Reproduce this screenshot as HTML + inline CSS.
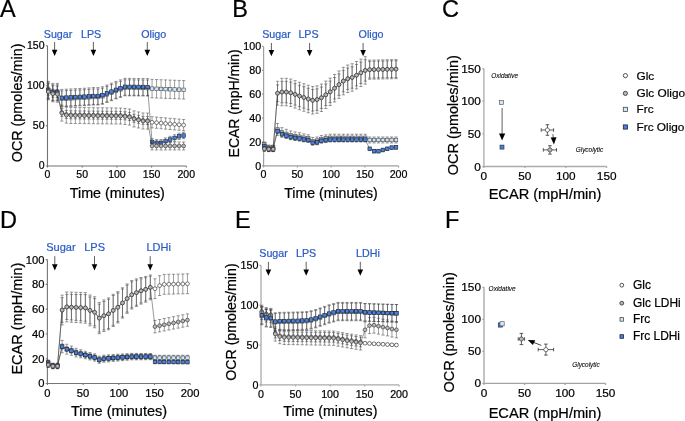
<!DOCTYPE html>
<html><head><meta charset="utf-8"><style>html,body{margin:0;padding:0;background:#fff;}svg{display:block;will-change:transform;}</style></head><body>
<svg width="685" height="421" viewBox="0 0 685 421" font-family='"Liberation Sans", sans-serif'>
<rect width="685" height="421" fill="#fff"/>
<text x="0" y="17" font-size="23.5" text-anchor="start" fill="#000" stroke="#000" stroke-width="0.22" >A</text>
<text x="232.2" y="17" font-size="23.5" text-anchor="start" fill="#000" stroke="#000" stroke-width="0.22" >B</text>
<text x="442" y="17" font-size="23.5" text-anchor="start" fill="#000" stroke="#000" stroke-width="0.22" >C</text>
<text x="0.1" y="228" font-size="23.5" text-anchor="start" fill="#000" stroke="#000" stroke-width="0.22" >D</text>
<text x="235.1" y="228" font-size="23.5" text-anchor="start" fill="#000" stroke="#000" stroke-width="0.22" >E</text>
<text x="444.9" y="228" font-size="23.5" text-anchor="start" fill="#000" stroke="#000" stroke-width="0.22" >F</text>
<text x="43.8" y="37.5" font-size="10.7" text-anchor="start" fill="#2a5cc6" stroke="#2a5cc6" stroke-width="0.22" >Sugar</text>
<text x="81" y="37.5" font-size="10.7" text-anchor="start" fill="#2a5cc6" stroke="#2a5cc6" stroke-width="0.22" >LPS</text>
<text x="141.2" y="37.5" font-size="10.7" text-anchor="start" fill="#2a5cc6" stroke="#2a5cc6" stroke-width="0.22" >Oligo</text>
<path d="M54.6,42V50.3" stroke="#444" stroke-width="0.85"/>
<path d="M51.8,49.8L57.4,49.8L54.6,56Z" fill="#000"/>
<path d="M93.4,42V50.3" stroke="#444" stroke-width="0.85"/>
<path d="M90.6,49.8L96.2,49.8L93.4,56Z" fill="#000"/>
<path d="M147.3,42V50.3" stroke="#444" stroke-width="0.85"/>
<path d="M144.5,49.8L150.1,49.8L147.3,56Z" fill="#000"/>
<text x="262.2" y="37.8" font-size="10.7" text-anchor="start" fill="#2a5cc6" stroke="#2a5cc6" stroke-width="0.22" >Sugar</text>
<text x="298.4" y="37.8" font-size="10.7" text-anchor="start" fill="#2a5cc6" stroke="#2a5cc6" stroke-width="0.22" >LPS</text>
<text x="358.6" y="37.8" font-size="10.7" text-anchor="start" fill="#2a5cc6" stroke="#2a5cc6" stroke-width="0.22" >Oligo</text>
<path d="M271.4,43V50.6" stroke="#444" stroke-width="0.85"/>
<path d="M268.6,50.1L274.2,50.1L271.4,56.3Z" fill="#000"/>
<path d="M309.6,43V50.6" stroke="#444" stroke-width="0.85"/>
<path d="M306.8,50.1L312.4,50.1L309.6,56.3Z" fill="#000"/>
<path d="M363.1,43V50.6" stroke="#444" stroke-width="0.85"/>
<path d="M360.3,50.1L365.9,50.1L363.1,56.3Z" fill="#000"/>
<text x="46.2" y="250.8" font-size="11" text-anchor="start" fill="#2a5cc6" stroke="#2a5cc6" stroke-width="0.22" >Sugar</text>
<text x="84.2" y="250.8" font-size="11" text-anchor="start" fill="#2a5cc6" stroke="#2a5cc6" stroke-width="0.22" >LPS</text>
<text x="146.4" y="250.8" font-size="11" text-anchor="start" fill="#2a5cc6" stroke="#2a5cc6" stroke-width="0.22" >LDHi</text>
<path d="M54.8,256.2V264.7" stroke="#444" stroke-width="0.85"/>
<path d="M52,264.2L57.6,264.2L54.8,270.4Z" fill="#000"/>
<path d="M94.5,256.2V264.7" stroke="#444" stroke-width="0.85"/>
<path d="M91.7,264.2L97.3,264.2L94.5,270.4Z" fill="#000"/>
<path d="M150.2,256.2V264.7" stroke="#444" stroke-width="0.85"/>
<path d="M147.4,264.2L153,264.2L150.2,270.4Z" fill="#000"/>
<text x="259.3" y="256.6" font-size="10.7" text-anchor="start" fill="#2a5cc6" stroke="#2a5cc6" stroke-width="0.22" >Sugar</text>
<text x="296" y="256.6" font-size="10.7" text-anchor="start" fill="#2a5cc6" stroke="#2a5cc6" stroke-width="0.22" >LPS</text>
<text x="356.1" y="256.6" font-size="10.7" text-anchor="start" fill="#2a5cc6" stroke="#2a5cc6" stroke-width="0.22" >LDHi</text>
<path d="M268.4,261.8V270" stroke="#444" stroke-width="0.85"/>
<path d="M265.6,269.5L271.2,269.5L268.4,275.7Z" fill="#000"/>
<path d="M306.2,261.8V270" stroke="#444" stroke-width="0.85"/>
<path d="M303.4,269.5L309,269.5L306.2,275.7Z" fill="#000"/>
<path d="M360.3,261.8V270" stroke="#444" stroke-width="0.85"/>
<path d="M357.5,269.5L363.1,269.5L360.3,275.7Z" fill="#000"/>
<path d="M47.5,45.7V166H186.3" stroke="#727272" stroke-width="1.1" fill="none"/>
<path d="M45.9,166H47.5M45.9,125.9H47.5M45.9,85.8H47.5M45.9,45.7H47.5M47.5,166V167.6M82.2,166V167.6M116.9,166V167.6M151.6,166V167.6M186.3,166V167.6" stroke="#727272" stroke-width="1.1" fill="none"/>
<text x="44.5" y="169.28" font-size="10.5" text-anchor="end" fill="#000" stroke="#000" stroke-width="0.22" >0</text>
<text x="44.5" y="129.18" font-size="10.5" text-anchor="end" fill="#000" stroke="#000" stroke-width="0.22" >50</text>
<text x="44.5" y="89.07" font-size="10.5" text-anchor="end" fill="#000" stroke="#000" stroke-width="0.22" >100</text>
<text x="44.5" y="48.97" font-size="10.5" text-anchor="end" fill="#000" stroke="#000" stroke-width="0.22" >150</text>
<text x="47.5" y="178.4" font-size="10.5" text-anchor="middle" fill="#000" stroke="#000" stroke-width="0.22" >0</text>
<text x="82.2" y="178.4" font-size="10.5" text-anchor="middle" fill="#000" stroke="#000" stroke-width="0.22" >50</text>
<text x="116.9" y="178.4" font-size="10.5" text-anchor="middle" fill="#000" stroke="#000" stroke-width="0.22" >100</text>
<text x="151.6" y="178.4" font-size="10.5" text-anchor="middle" fill="#000" stroke="#000" stroke-width="0.22" >150</text>
<text x="186.3" y="178.4" font-size="10.5" text-anchor="middle" fill="#000" stroke="#000" stroke-width="0.22" >200</text>
<text x="117.3" y="198" font-size="14.35" text-anchor="middle" fill="#000" stroke="#000" stroke-width="0.22" >Time (minutes)</text>
<text transform="translate(21.8,102.9) rotate(-90)" font-size="14.35" text-anchor="middle" stroke="#000" stroke-width="0.22">OCR (pmoles/min)</text>
<path d="M48.3,82.83V98.87M46.7,82.83H49.9M46.7,98.87H49.9M52.81,84.84V100.88M51.21,84.84H54.41M51.21,100.88H54.41M57.32,84.84V100.88M55.72,84.84H58.92M55.72,100.88H58.92M61.83,90.85V106.89M60.23,90.85H63.43M60.23,106.89H63.43M66.34,90.61V106.65M64.74,90.61H67.94M64.74,106.65H67.94M70.85,90.37V106.41M69.25,90.37H72.45M69.25,106.41H72.45M75.36,90.13V106.17M73.76,90.13H76.96M73.76,106.17H76.96M79.88,89.89V105.93M78.28,89.89H81.48M78.28,105.93H81.48M84.39,89.65V105.69M82.79,89.65H85.99M82.79,105.69H85.99M88.9,89.33V105.37M87.3,89.33H90.5M87.3,105.37H90.5M93.41,89.01V105.05M91.81,89.01H95.01M91.81,105.05H95.01M97.92,89.01V105.05M96.32,89.01H99.52M96.32,105.05H99.52M102.43,88.21V104.25M100.83,88.21H104.03M100.83,104.25H104.03M106.94,86.44V102.48M105.34,86.44H108.54M105.34,102.48H108.54M111.45,84.6V100.64M109.85,84.6H113.05M109.85,100.64H113.05M115.96,82.83V98.87M114.36,82.83H117.56M114.36,98.87H117.56M120.47,81.31V97.35M118.87,81.31H122.07M118.87,97.35H122.07M124.99,79.78V95.82M123.39,79.78H126.59M123.39,95.82H126.59M129.5,79.83V95.87M127.9,79.83H131.1M127.9,95.87H131.1M134.01,79.88V95.92M132.41,79.88H135.61M132.41,95.92H135.61M138.52,79.93V95.97M136.92,79.93H140.12M136.92,95.97H140.12M143.03,79.98V96.02M141.43,79.98H144.63M141.43,96.02H144.63M147.54,80.03V96.07M145.94,80.03H149.14M145.94,96.07H149.14M152.05,79.38V97.83M150.45,79.38H153.65M150.45,97.83H153.65M156.56,79.56V98M154.96,79.56H158.16M154.96,98H158.16M161.07,79.73V98.17M159.47,79.73H162.67M159.47,98.17H162.67M165.58,79.9V98.35M163.98,79.9H167.18M163.98,98.35H167.18M170.1,80.07V98.52M168.5,80.07H171.7M168.5,98.52H171.7M174.61,80.24V98.69M173.01,80.24H176.21M173.01,98.69H176.21M179.12,80.42V98.86M177.52,80.42H180.72M177.52,98.86H180.72M183.63,80.59V99.03M182.03,80.59H185.23M182.03,99.03H185.23" stroke="#3a3a3a" stroke-width="0.5" fill="none"/>
<path d="M48.3,90.85L52.81,92.86L57.32,92.86L61.83,98.87L66.34,98.63L70.85,98.39L75.36,98.15L79.88,97.91L84.39,97.67L88.9,97.35L93.41,97.03L97.92,97.03L102.43,96.23L106.94,94.46L111.45,92.62L115.96,90.85L120.47,89.33L124.99,87.8L129.5,87.85L134.01,87.9L138.52,87.95L143.03,88L147.54,88.05L152.05,88.61L156.56,88.78L161.07,88.95L165.58,89.12L170.1,89.29L174.61,89.47L179.12,89.64L183.63,89.81" stroke="#333" stroke-width="0.5" fill="none"/>
<rect x="46.55" y="89.1" width="3.5" height="3.5" fill="#cfe7fb" stroke="#4a4a4a" stroke-width="0.6"/><rect x="51.06" y="91.11" width="3.5" height="3.5" fill="#cfe7fb" stroke="#4a4a4a" stroke-width="0.6"/><rect x="55.57" y="91.11" width="3.5" height="3.5" fill="#cfe7fb" stroke="#4a4a4a" stroke-width="0.6"/><rect x="60.08" y="97.12" width="3.5" height="3.5" fill="#cfe7fb" stroke="#4a4a4a" stroke-width="0.6"/><rect x="64.59" y="96.88" width="3.5" height="3.5" fill="#cfe7fb" stroke="#4a4a4a" stroke-width="0.6"/><rect x="69.1" y="96.64" width="3.5" height="3.5" fill="#cfe7fb" stroke="#4a4a4a" stroke-width="0.6"/><rect x="73.61" y="96.4" width="3.5" height="3.5" fill="#cfe7fb" stroke="#4a4a4a" stroke-width="0.6"/><rect x="78.13" y="96.16" width="3.5" height="3.5" fill="#cfe7fb" stroke="#4a4a4a" stroke-width="0.6"/><rect x="82.64" y="95.92" width="3.5" height="3.5" fill="#cfe7fb" stroke="#4a4a4a" stroke-width="0.6"/><rect x="87.15" y="95.6" width="3.5" height="3.5" fill="#cfe7fb" stroke="#4a4a4a" stroke-width="0.6"/><rect x="91.66" y="95.28" width="3.5" height="3.5" fill="#cfe7fb" stroke="#4a4a4a" stroke-width="0.6"/><rect x="96.17" y="95.28" width="3.5" height="3.5" fill="#cfe7fb" stroke="#4a4a4a" stroke-width="0.6"/><rect x="100.68" y="94.48" width="3.5" height="3.5" fill="#cfe7fb" stroke="#4a4a4a" stroke-width="0.6"/><rect x="105.19" y="92.71" width="3.5" height="3.5" fill="#cfe7fb" stroke="#4a4a4a" stroke-width="0.6"/><rect x="109.7" y="90.87" width="3.5" height="3.5" fill="#cfe7fb" stroke="#4a4a4a" stroke-width="0.6"/><rect x="114.21" y="89.1" width="3.5" height="3.5" fill="#cfe7fb" stroke="#4a4a4a" stroke-width="0.6"/><rect x="118.72" y="87.58" width="3.5" height="3.5" fill="#cfe7fb" stroke="#4a4a4a" stroke-width="0.6"/><rect x="123.24" y="86.05" width="3.5" height="3.5" fill="#cfe7fb" stroke="#4a4a4a" stroke-width="0.6"/><rect x="127.75" y="86.1" width="3.5" height="3.5" fill="#cfe7fb" stroke="#4a4a4a" stroke-width="0.6"/><rect x="132.26" y="86.15" width="3.5" height="3.5" fill="#cfe7fb" stroke="#4a4a4a" stroke-width="0.6"/><rect x="136.77" y="86.2" width="3.5" height="3.5" fill="#cfe7fb" stroke="#4a4a4a" stroke-width="0.6"/><rect x="141.28" y="86.25" width="3.5" height="3.5" fill="#cfe7fb" stroke="#4a4a4a" stroke-width="0.6"/><rect x="145.79" y="86.3" width="3.5" height="3.5" fill="#cfe7fb" stroke="#4a4a4a" stroke-width="0.6"/><rect x="150.3" y="86.86" width="3.5" height="3.5" fill="#cfe7fb" stroke="#4a4a4a" stroke-width="0.6"/><rect x="154.81" y="87.03" width="3.5" height="3.5" fill="#cfe7fb" stroke="#4a4a4a" stroke-width="0.6"/><rect x="159.32" y="87.2" width="3.5" height="3.5" fill="#cfe7fb" stroke="#4a4a4a" stroke-width="0.6"/><rect x="163.83" y="87.37" width="3.5" height="3.5" fill="#cfe7fb" stroke="#4a4a4a" stroke-width="0.6"/><rect x="168.35" y="87.54" width="3.5" height="3.5" fill="#cfe7fb" stroke="#4a4a4a" stroke-width="0.6"/><rect x="172.86" y="87.72" width="3.5" height="3.5" fill="#cfe7fb" stroke="#4a4a4a" stroke-width="0.6"/><rect x="177.37" y="87.89" width="3.5" height="3.5" fill="#cfe7fb" stroke="#4a4a4a" stroke-width="0.6"/><rect x="181.88" y="88.06" width="3.5" height="3.5" fill="#cfe7fb" stroke="#4a4a4a" stroke-width="0.6"/>
<path d="M48.3,81.39V98.23M46.7,81.39H49.9M46.7,98.23H49.9M52.81,83.39V100.24M51.21,83.39H54.41M51.21,100.24H54.41M57.32,83.39V100.24M55.72,83.39H58.92M55.72,100.24H58.92M61.83,89.41V106.25M60.23,89.41H63.43M60.23,106.25H63.43M66.34,89.17V106.01M64.74,89.17H67.94M64.74,106.01H67.94M70.85,88.93V105.77M69.25,88.93H72.45M69.25,105.77H72.45M75.36,88.69V105.53M73.76,88.69H76.96M73.76,105.53H76.96M79.88,88.45V105.29M78.28,88.45H81.48M78.28,105.29H81.48M84.39,88.21V105.05M82.79,88.21H85.99M82.79,105.05H85.99M88.9,87.89V104.73M87.3,87.89H90.5M87.3,104.73H90.5M93.41,87.56V104.41M91.81,87.56H95.01M91.81,104.41H95.01M97.92,87.56V104.41M96.32,87.56H99.52M96.32,104.41H99.52M102.43,86.76V103.6M100.83,86.76H104.03M100.83,103.6H104.03M106.94,85V101.84M105.34,85H108.54M105.34,101.84H108.54M111.45,83.15V100M109.85,83.15H113.05M109.85,100H113.05M115.96,81.39V98.23M114.36,81.39H117.56M114.36,98.23H117.56M120.47,79.87V96.71M118.87,79.87H122.07M118.87,96.71H122.07M124.99,78.34V95.18M123.39,78.34H126.59M123.39,95.18H126.59M129.5,78.39V95.23M127.9,78.39H131.1M127.9,95.23H131.1M134.01,78.44V95.28M132.41,78.44H135.61M132.41,95.28H135.61M138.52,78.49V95.33M136.92,78.49H140.12M136.92,95.33H140.12M143.03,78.53V95.38M141.43,78.53H144.63M141.43,95.38H144.63M147.54,78.58V95.42M145.94,78.58H149.14M145.94,95.42H149.14M152.05,138.73V145.15M150.45,138.73H153.65M150.45,145.15H153.65M156.56,139.53V145.95M154.96,139.53H158.16M154.96,145.95H158.16M161.07,139.53V145.95M159.47,139.53H162.67M159.47,145.95H162.67M165.58,137.93V144.35M163.98,137.93H167.18M163.98,144.35H167.18M170.1,136.33V142.74M168.5,136.33H171.7M168.5,142.74H171.7M174.61,134.72V141.14M173.01,134.72H176.21M173.01,141.14H176.21M179.12,133.12V139.53M177.52,133.12H180.72M177.52,139.53H180.72M183.63,132.32V138.73M182.03,132.32H185.23M182.03,138.73H185.23" stroke="#3a3a3a" stroke-width="0.5" fill="none"/>
<path d="M48.3,89.81L52.81,91.81L57.32,91.81L61.83,97.83L66.34,97.59L70.85,97.35L75.36,97.11L79.88,96.87L84.39,96.63L88.9,96.31L93.41,95.99L97.92,95.99L102.43,95.18L106.94,93.42L111.45,91.57L115.96,89.81L120.47,88.29L124.99,86.76L129.5,86.81L134.01,86.86L138.52,86.91L143.03,86.95L147.54,87L152.05,141.94L156.56,142.74L161.07,142.74L165.58,141.14L170.1,139.53L174.61,137.93L179.12,136.33L183.63,135.52" stroke="#333" stroke-width="0.5" fill="none"/>
<rect x="46.55" y="88.06" width="3.5" height="3.5" fill="#4a80e0" stroke="#1c2230" stroke-width="0.6"/><rect x="51.06" y="90.06" width="3.5" height="3.5" fill="#4a80e0" stroke="#1c2230" stroke-width="0.6"/><rect x="55.57" y="90.06" width="3.5" height="3.5" fill="#4a80e0" stroke="#1c2230" stroke-width="0.6"/><rect x="60.08" y="96.08" width="3.5" height="3.5" fill="#4a80e0" stroke="#1c2230" stroke-width="0.6"/><rect x="64.59" y="95.84" width="3.5" height="3.5" fill="#4a80e0" stroke="#1c2230" stroke-width="0.6"/><rect x="69.1" y="95.6" width="3.5" height="3.5" fill="#4a80e0" stroke="#1c2230" stroke-width="0.6"/><rect x="73.61" y="95.36" width="3.5" height="3.5" fill="#4a80e0" stroke="#1c2230" stroke-width="0.6"/><rect x="78.13" y="95.12" width="3.5" height="3.5" fill="#4a80e0" stroke="#1c2230" stroke-width="0.6"/><rect x="82.64" y="94.88" width="3.5" height="3.5" fill="#4a80e0" stroke="#1c2230" stroke-width="0.6"/><rect x="87.15" y="94.56" width="3.5" height="3.5" fill="#4a80e0" stroke="#1c2230" stroke-width="0.6"/><rect x="91.66" y="94.24" width="3.5" height="3.5" fill="#4a80e0" stroke="#1c2230" stroke-width="0.6"/><rect x="96.17" y="94.24" width="3.5" height="3.5" fill="#4a80e0" stroke="#1c2230" stroke-width="0.6"/><rect x="100.68" y="93.43" width="3.5" height="3.5" fill="#4a80e0" stroke="#1c2230" stroke-width="0.6"/><rect x="105.19" y="91.67" width="3.5" height="3.5" fill="#4a80e0" stroke="#1c2230" stroke-width="0.6"/><rect x="109.7" y="89.82" width="3.5" height="3.5" fill="#4a80e0" stroke="#1c2230" stroke-width="0.6"/><rect x="114.21" y="88.06" width="3.5" height="3.5" fill="#4a80e0" stroke="#1c2230" stroke-width="0.6"/><rect x="118.72" y="86.54" width="3.5" height="3.5" fill="#4a80e0" stroke="#1c2230" stroke-width="0.6"/><rect x="123.24" y="85.01" width="3.5" height="3.5" fill="#4a80e0" stroke="#1c2230" stroke-width="0.6"/><rect x="127.75" y="85.06" width="3.5" height="3.5" fill="#4a80e0" stroke="#1c2230" stroke-width="0.6"/><rect x="132.26" y="85.11" width="3.5" height="3.5" fill="#4a80e0" stroke="#1c2230" stroke-width="0.6"/><rect x="136.77" y="85.16" width="3.5" height="3.5" fill="#4a80e0" stroke="#1c2230" stroke-width="0.6"/><rect x="141.28" y="85.2" width="3.5" height="3.5" fill="#4a80e0" stroke="#1c2230" stroke-width="0.6"/><rect x="145.79" y="85.25" width="3.5" height="3.5" fill="#4a80e0" stroke="#1c2230" stroke-width="0.6"/><rect x="150.3" y="140.19" width="3.5" height="3.5" fill="#4a80e0" stroke="#1c2230" stroke-width="0.6"/><rect x="154.81" y="140.99" width="3.5" height="3.5" fill="#4a80e0" stroke="#1c2230" stroke-width="0.6"/><rect x="159.32" y="140.99" width="3.5" height="3.5" fill="#4a80e0" stroke="#1c2230" stroke-width="0.6"/><rect x="163.83" y="139.39" width="3.5" height="3.5" fill="#4a80e0" stroke="#1c2230" stroke-width="0.6"/><rect x="168.35" y="137.78" width="3.5" height="3.5" fill="#4a80e0" stroke="#1c2230" stroke-width="0.6"/><rect x="172.86" y="136.18" width="3.5" height="3.5" fill="#4a80e0" stroke="#1c2230" stroke-width="0.6"/><rect x="177.37" y="134.58" width="3.5" height="3.5" fill="#4a80e0" stroke="#1c2230" stroke-width="0.6"/><rect x="181.88" y="133.77" width="3.5" height="3.5" fill="#4a80e0" stroke="#1c2230" stroke-width="0.6"/>
<path d="M48.3,87.16V95.18M46.7,87.16H49.9M46.7,95.18H49.9M52.81,89.17V97.19M51.21,89.17H54.41M51.21,97.19H54.41M57.32,89.57V97.59M55.72,89.57H58.92M55.72,97.59H58.92M61.83,108.42V116.44M60.23,108.42H63.43M60.23,116.44H63.43M66.34,110.42V118.44M64.74,110.42H67.94M64.74,118.44H67.94M70.85,110.82V118.84M69.25,110.82H72.45M69.25,118.84H72.45M75.36,110.87V118.89M73.76,110.87H76.96M73.76,118.89H76.96M79.88,110.92V118.94M78.28,110.92H81.48M78.28,118.94H81.48M84.39,110.98V119M82.79,110.98H85.99M82.79,119H85.99M88.9,111.03V119.05M87.3,111.03H90.5M87.3,119.05H90.5M93.41,111.08V119.1M91.81,111.08H95.01M91.81,119.1H95.01M97.92,111.13V119.15M96.32,111.13H99.52M96.32,119.15H99.52M102.43,111.18V119.2M100.83,111.18H104.03M100.83,119.2H104.03M106.94,111.23V119.25M105.34,111.23H108.54M105.34,119.25H108.54M111.45,111.28V119.3M109.85,111.28H113.05M109.85,119.3H113.05M115.96,111.33V119.35M114.36,111.33H117.56M114.36,119.35H117.56M120.47,111.38V119.4M118.87,111.38H122.07M118.87,119.4H122.07M124.99,111.78V119.8M123.39,111.78H126.59M123.39,119.8H126.59M129.5,112.43V120.45M127.9,112.43H131.1M127.9,120.45H131.1M134.01,114.27V122.29M132.41,114.27H135.61M132.41,122.29H135.61M138.52,115.31V123.33M136.92,115.31H140.12M136.92,123.33H140.12M143.03,116.36V124.38M141.43,116.36H144.63M141.43,124.38H144.63M147.54,116.44V124.46M145.94,116.44H149.14M145.94,124.46H149.14M152.05,116.68V127.91M150.45,116.68H153.65M150.45,127.91H153.65M156.56,117.08V128.31M154.96,117.08H158.16M154.96,128.31H158.16M161.07,117.48V128.71M159.47,117.48H162.67M159.47,128.71H162.67M165.58,117.88V129.11M163.98,117.88H167.18M163.98,129.11H167.18M170.1,118.28V129.51M168.5,118.28H171.7M168.5,129.51H171.7M174.61,118.68V129.91M173.01,118.68H176.21M173.01,129.91H176.21M179.12,119.08V130.31M177.52,119.08H180.72M177.52,130.31H180.72M183.63,119.48V130.71M182.03,119.48H185.23M182.03,130.71H185.23" stroke="#3a3a3a" stroke-width="0.5" fill="none"/>
<path d="M48.3,91.17L52.81,93.18L57.32,93.58L61.83,112.43L66.34,114.43L70.85,114.83L75.36,114.88L79.88,114.93L84.39,114.99L88.9,115.04L93.41,115.09L97.92,115.14L102.43,115.19L106.94,115.24L111.45,115.29L115.96,115.34L120.47,115.39L124.99,115.79L129.5,116.44L134.01,118.28L138.52,119.32L143.03,120.37L147.54,120.45L152.05,122.29L156.56,122.69L161.07,123.09L165.58,123.49L170.1,123.89L174.61,124.3L179.12,124.7L183.63,125.1" stroke="#333" stroke-width="0.5" fill="none"/>
<circle cx="48.3" cy="91.17" r="1.9" fill="#ffffff" stroke="#2a2a2a" stroke-width="0.6"/><circle cx="52.81" cy="93.18" r="1.9" fill="#ffffff" stroke="#2a2a2a" stroke-width="0.6"/><circle cx="57.32" cy="93.58" r="1.9" fill="#ffffff" stroke="#2a2a2a" stroke-width="0.6"/><circle cx="61.83" cy="112.43" r="1.9" fill="#ffffff" stroke="#2a2a2a" stroke-width="0.6"/><circle cx="66.34" cy="114.43" r="1.9" fill="#ffffff" stroke="#2a2a2a" stroke-width="0.6"/><circle cx="70.85" cy="114.83" r="1.9" fill="#ffffff" stroke="#2a2a2a" stroke-width="0.6"/><circle cx="75.36" cy="114.88" r="1.9" fill="#ffffff" stroke="#2a2a2a" stroke-width="0.6"/><circle cx="79.88" cy="114.93" r="1.9" fill="#ffffff" stroke="#2a2a2a" stroke-width="0.6"/><circle cx="84.39" cy="114.99" r="1.9" fill="#ffffff" stroke="#2a2a2a" stroke-width="0.6"/><circle cx="88.9" cy="115.04" r="1.9" fill="#ffffff" stroke="#2a2a2a" stroke-width="0.6"/><circle cx="93.41" cy="115.09" r="1.9" fill="#ffffff" stroke="#2a2a2a" stroke-width="0.6"/><circle cx="97.92" cy="115.14" r="1.9" fill="#ffffff" stroke="#2a2a2a" stroke-width="0.6"/><circle cx="102.43" cy="115.19" r="1.9" fill="#ffffff" stroke="#2a2a2a" stroke-width="0.6"/><circle cx="106.94" cy="115.24" r="1.9" fill="#ffffff" stroke="#2a2a2a" stroke-width="0.6"/><circle cx="111.45" cy="115.29" r="1.9" fill="#ffffff" stroke="#2a2a2a" stroke-width="0.6"/><circle cx="115.96" cy="115.34" r="1.9" fill="#ffffff" stroke="#2a2a2a" stroke-width="0.6"/><circle cx="120.47" cy="115.39" r="1.9" fill="#ffffff" stroke="#2a2a2a" stroke-width="0.6"/><circle cx="124.99" cy="115.79" r="1.9" fill="#ffffff" stroke="#2a2a2a" stroke-width="0.6"/><circle cx="129.5" cy="116.44" r="1.9" fill="#ffffff" stroke="#2a2a2a" stroke-width="0.6"/><circle cx="134.01" cy="118.28" r="1.9" fill="#ffffff" stroke="#2a2a2a" stroke-width="0.6"/><circle cx="138.52" cy="119.32" r="1.9" fill="#ffffff" stroke="#2a2a2a" stroke-width="0.6"/><circle cx="143.03" cy="120.37" r="1.9" fill="#ffffff" stroke="#2a2a2a" stroke-width="0.6"/><circle cx="147.54" cy="120.45" r="1.9" fill="#ffffff" stroke="#2a2a2a" stroke-width="0.6"/><circle cx="152.05" cy="122.29" r="1.9" fill="#ffffff" stroke="#2a2a2a" stroke-width="0.6"/><circle cx="156.56" cy="122.69" r="1.9" fill="#ffffff" stroke="#2a2a2a" stroke-width="0.6"/><circle cx="161.07" cy="123.09" r="1.9" fill="#ffffff" stroke="#2a2a2a" stroke-width="0.6"/><circle cx="165.58" cy="123.49" r="1.9" fill="#ffffff" stroke="#2a2a2a" stroke-width="0.6"/><circle cx="170.1" cy="123.89" r="1.9" fill="#ffffff" stroke="#2a2a2a" stroke-width="0.6"/><circle cx="174.61" cy="124.3" r="1.9" fill="#ffffff" stroke="#2a2a2a" stroke-width="0.6"/><circle cx="179.12" cy="124.7" r="1.9" fill="#ffffff" stroke="#2a2a2a" stroke-width="0.6"/><circle cx="183.63" cy="125.1" r="1.9" fill="#ffffff" stroke="#2a2a2a" stroke-width="0.6"/>
<path d="M48.3,83.8V99.83M46.7,83.8H49.9M46.7,99.83H49.9M52.81,85.8V101.84M51.21,85.8H54.41M51.21,101.84H54.41M57.32,86.2V102.24M55.72,86.2H58.92M55.72,102.24H58.92M61.83,105.05V121.09M60.23,105.05H63.43M60.23,121.09H63.43M66.34,107.05V123.09M64.74,107.05H67.94M64.74,123.09H67.94M70.85,107.45V123.49M69.25,107.45H72.45M69.25,123.49H72.45M75.36,107.51V123.55M73.76,107.51H76.96M73.76,123.55H76.96M79.88,107.56V123.6M78.28,107.56H81.48M78.28,123.6H81.48M84.39,107.61V123.65M82.79,107.61H85.99M82.79,123.65H85.99M88.9,107.66V123.7M87.3,107.66H90.5M87.3,123.7H90.5M93.41,107.71V123.75M91.81,107.71H95.01M91.81,123.75H95.01M97.92,107.76V123.8M96.32,107.76H99.52M96.32,123.8H99.52M102.43,107.81V123.85M100.83,107.81H104.03M100.83,123.85H104.03M106.94,107.86V123.9M105.34,107.86H108.54M105.34,123.9H108.54M111.45,107.91V123.95M109.85,107.91H113.05M109.85,123.95H113.05M115.96,107.96V124M114.36,107.96H117.56M114.36,124H117.56M120.47,108.02V124.06M118.87,108.02H122.07M118.87,124.06H122.07M124.99,108.42V124.46M123.39,108.42H126.59M123.39,124.46H126.59M129.5,109.06V125.1M127.9,109.06H131.1M127.9,125.1H131.1M134.01,110.9V126.94M132.41,110.9H135.61M132.41,126.94H135.61M138.52,111.95V127.99M136.92,111.95H140.12M136.92,127.99H140.12M143.03,112.99V129.03M141.43,112.99H144.63M141.43,129.03H144.63M147.54,113.07V129.11M145.94,113.07H149.14M145.94,129.11H149.14M152.05,141.94V149.96M150.45,141.94H153.65M150.45,149.96H153.65M156.56,141.94V149.96M154.96,141.94H158.16M154.96,149.96H158.16M161.07,141.94V149.96M159.47,141.94H162.67M159.47,149.96H162.67M165.58,141.94V149.96M163.98,141.94H167.18M163.98,149.96H167.18M170.1,141.94V149.96M168.5,141.94H171.7M168.5,149.96H171.7M174.61,141.94V149.96M173.01,141.94H176.21M173.01,149.96H176.21M179.12,141.94V149.96M177.52,141.94H180.72M177.52,149.96H180.72M183.63,141.94V149.96M182.03,141.94H185.23M182.03,149.96H185.23" stroke="#3a3a3a" stroke-width="0.5" fill="none"/>
<path d="M48.3,91.81L52.81,93.82L57.32,94.22L61.83,113.07L66.34,115.07L70.85,115.47L75.36,115.53L79.88,115.58L84.39,115.63L88.9,115.68L93.41,115.73L97.92,115.78L102.43,115.83L106.94,115.88L111.45,115.93L115.96,115.98L120.47,116.04L124.99,116.44L129.5,117.08L134.01,118.92L138.52,119.97L143.03,121.01L147.54,121.09L152.05,145.95L156.56,145.95L161.07,145.95L165.58,145.95L170.1,145.95L174.61,145.95L179.12,145.95L183.63,145.95" stroke="#333" stroke-width="0.5" fill="none"/>
<circle cx="48.3" cy="91.81" r="1.9" fill="#b8b8b8" stroke="#2a2a2a" stroke-width="0.6"/><circle cx="52.81" cy="93.82" r="1.9" fill="#b8b8b8" stroke="#2a2a2a" stroke-width="0.6"/><circle cx="57.32" cy="94.22" r="1.9" fill="#b8b8b8" stroke="#2a2a2a" stroke-width="0.6"/><circle cx="61.83" cy="113.07" r="1.9" fill="#b8b8b8" stroke="#2a2a2a" stroke-width="0.6"/><circle cx="66.34" cy="115.07" r="1.9" fill="#b8b8b8" stroke="#2a2a2a" stroke-width="0.6"/><circle cx="70.85" cy="115.47" r="1.9" fill="#b8b8b8" stroke="#2a2a2a" stroke-width="0.6"/><circle cx="75.36" cy="115.53" r="1.9" fill="#b8b8b8" stroke="#2a2a2a" stroke-width="0.6"/><circle cx="79.88" cy="115.58" r="1.9" fill="#b8b8b8" stroke="#2a2a2a" stroke-width="0.6"/><circle cx="84.39" cy="115.63" r="1.9" fill="#b8b8b8" stroke="#2a2a2a" stroke-width="0.6"/><circle cx="88.9" cy="115.68" r="1.9" fill="#b8b8b8" stroke="#2a2a2a" stroke-width="0.6"/><circle cx="93.41" cy="115.73" r="1.9" fill="#b8b8b8" stroke="#2a2a2a" stroke-width="0.6"/><circle cx="97.92" cy="115.78" r="1.9" fill="#b8b8b8" stroke="#2a2a2a" stroke-width="0.6"/><circle cx="102.43" cy="115.83" r="1.9" fill="#b8b8b8" stroke="#2a2a2a" stroke-width="0.6"/><circle cx="106.94" cy="115.88" r="1.9" fill="#b8b8b8" stroke="#2a2a2a" stroke-width="0.6"/><circle cx="111.45" cy="115.93" r="1.9" fill="#b8b8b8" stroke="#2a2a2a" stroke-width="0.6"/><circle cx="115.96" cy="115.98" r="1.9" fill="#b8b8b8" stroke="#2a2a2a" stroke-width="0.6"/><circle cx="120.47" cy="116.04" r="1.9" fill="#b8b8b8" stroke="#2a2a2a" stroke-width="0.6"/><circle cx="124.99" cy="116.44" r="1.9" fill="#b8b8b8" stroke="#2a2a2a" stroke-width="0.6"/><circle cx="129.5" cy="117.08" r="1.9" fill="#b8b8b8" stroke="#2a2a2a" stroke-width="0.6"/><circle cx="134.01" cy="118.92" r="1.9" fill="#b8b8b8" stroke="#2a2a2a" stroke-width="0.6"/><circle cx="138.52" cy="119.97" r="1.9" fill="#b8b8b8" stroke="#2a2a2a" stroke-width="0.6"/><circle cx="143.03" cy="121.01" r="1.9" fill="#b8b8b8" stroke="#2a2a2a" stroke-width="0.6"/><circle cx="147.54" cy="121.09" r="1.9" fill="#b8b8b8" stroke="#2a2a2a" stroke-width="0.6"/><circle cx="152.05" cy="145.95" r="1.9" fill="#b8b8b8" stroke="#2a2a2a" stroke-width="0.6"/><circle cx="156.56" cy="145.95" r="1.9" fill="#b8b8b8" stroke="#2a2a2a" stroke-width="0.6"/><circle cx="161.07" cy="145.95" r="1.9" fill="#b8b8b8" stroke="#2a2a2a" stroke-width="0.6"/><circle cx="165.58" cy="145.95" r="1.9" fill="#b8b8b8" stroke="#2a2a2a" stroke-width="0.6"/><circle cx="170.1" cy="145.95" r="1.9" fill="#b8b8b8" stroke="#2a2a2a" stroke-width="0.6"/><circle cx="174.61" cy="145.95" r="1.9" fill="#b8b8b8" stroke="#2a2a2a" stroke-width="0.6"/><circle cx="179.12" cy="145.95" r="1.9" fill="#b8b8b8" stroke="#2a2a2a" stroke-width="0.6"/><circle cx="183.63" cy="145.95" r="1.9" fill="#b8b8b8" stroke="#2a2a2a" stroke-width="0.6"/>
<path d="M263.6,46.4V165.9H398.6" stroke="#a0a0a0" stroke-width="1.2" fill="none"/>
<path d="M262,165.9H263.6M262,142H263.6M262,118.1H263.6M262,94.2H263.6M262,70.3H263.6M262,46.4H263.6M263.6,165.9V167.5M297.35,165.9V167.5M331.1,165.9V167.5M364.85,165.9V167.5M398.6,165.9V167.5" stroke="#a0a0a0" stroke-width="1.2" fill="none"/>
<text x="261.2" y="169.65" font-size="10.7" text-anchor="end" fill="#000" stroke="#000" stroke-width="0.22" >0</text>
<text x="261.2" y="145.75" font-size="10.7" text-anchor="end" fill="#000" stroke="#000" stroke-width="0.22" >20</text>
<text x="261.2" y="121.84" font-size="10.7" text-anchor="end" fill="#000" stroke="#000" stroke-width="0.22" >40</text>
<text x="261.2" y="97.95" font-size="10.7" text-anchor="end" fill="#000" stroke="#000" stroke-width="0.22" >60</text>
<text x="261.2" y="74.05" font-size="10.7" text-anchor="end" fill="#000" stroke="#000" stroke-width="0.22" >80</text>
<text x="261.2" y="50.15" font-size="10.7" text-anchor="end" fill="#000" stroke="#000" stroke-width="0.22" >100</text>
<text x="263.6" y="178.1" font-size="10.7" text-anchor="middle" fill="#000" stroke="#000" stroke-width="0.22" >0</text>
<text x="297.35" y="178.1" font-size="10.7" text-anchor="middle" fill="#000" stroke="#000" stroke-width="0.22" >50</text>
<text x="331.1" y="178.1" font-size="10.7" text-anchor="middle" fill="#000" stroke="#000" stroke-width="0.22" >100</text>
<text x="364.85" y="178.1" font-size="10.7" text-anchor="middle" fill="#000" stroke="#000" stroke-width="0.22" >150</text>
<text x="398.6" y="178.1" font-size="10.7" text-anchor="middle" fill="#000" stroke="#000" stroke-width="0.22" >200</text>
<text x="331" y="197.6" font-size="14.1" text-anchor="middle" fill="#000" stroke="#000" stroke-width="0.22" >Time (minutes)</text>
<text transform="translate(239,103.4) rotate(-90)" font-size="14.0" text-anchor="middle" stroke="#000" stroke-width="0.22">ECAR (mpH/min)</text>
<path d="M264.38,142V146.78M262.78,142H265.98M262.78,146.78H265.98M268.76,144.99V149.77M267.16,144.99H270.36M267.16,149.77H270.36M273.15,144.99V149.77M271.55,144.99H274.75M271.55,149.77H274.75M277.54,123.48V135.43M275.94,123.48H279.14M275.94,135.43H279.14M281.93,127.66V137.22M280.33,127.66H283.53M280.33,137.22H283.53M286.31,129.29V138.45M284.71,129.29H287.91M284.71,138.45H287.91M290.7,130.93V139.69M289.1,130.93H292.3M289.1,139.69H292.3M295.09,131.96V140.33M293.49,131.96H296.69M293.49,140.33H296.69M299.48,132.76V140.73M297.88,132.76H301.08M297.88,140.73H301.08M303.86,133.91V141.48M302.26,133.91H305.46M302.26,141.48H305.46M308.25,134.71V141.88M306.65,134.71H309.85M306.65,141.88H309.85M312.64,137.46V144.63M311.04,137.46H314.24M311.04,144.63H314.24M317.03,136.98V144.15M315.43,136.98H318.63M315.43,144.15H318.63M321.41,135.43V142.6M319.81,135.43H323.01M319.81,142.6H323.01M325.8,134.83V142M324.2,134.83H327.4M324.2,142H327.4M330.19,134.23V141.4M328.59,134.23H331.79M328.59,141.4H331.79M334.58,134.23V141.4M332.98,134.23H336.18M332.98,141.4H336.18M338.96,134.23V141.4M337.36,134.23H340.56M337.36,141.4H340.56M343.35,134.23V141.4M341.75,134.23H344.95M341.75,141.4H344.95M347.74,134.23V141.4M346.14,134.23H349.34M346.14,141.4H349.34M352.13,134.23V141.4M350.53,134.23H353.73M350.53,141.4H353.73M356.51,134.23V141.4M354.91,134.23H358.11M354.91,141.4H358.11M360.9,134.23V141.4M359.3,134.23H362.5M359.3,141.4H362.5M365.29,134.23V141.4M363.69,134.23H366.89M363.69,141.4H366.89M369.68,136.98V142.96M368.08,136.98H371.28M368.08,142.96H371.28M374.06,136.98V142.96M372.46,136.98H375.66M372.46,142.96H375.66M378.45,136.98V142.96M376.85,136.98H380.05M376.85,142.96H380.05M382.84,136.98V142.96M381.24,136.98H384.44M381.24,142.96H384.44M387.23,136.98V142.96M385.63,136.98H388.83M385.63,142.96H388.83M391.61,136.98V142.96M390.01,136.98H393.21M390.01,142.96H393.21M396,136.98V142.96M394.4,136.98H397.6M394.4,142.96H397.6" stroke="#3a3a3a" stroke-width="0.5" fill="none"/>
<path d="M264.38,144.39L268.76,147.38L273.15,147.38L277.54,129.45L281.93,132.44L286.31,133.87L290.7,135.31L295.09,136.14L299.48,136.74L303.86,137.7L308.25,138.3L312.64,141.04L317.03,140.57L321.41,139.01L325.8,138.41L330.19,137.82L334.58,137.82L338.96,137.82L343.35,137.82L347.74,137.82L352.13,137.82L356.51,137.82L360.9,137.82L365.29,137.82L369.68,139.97L374.06,139.97L378.45,139.97L382.84,139.97L387.23,139.97L391.61,139.97L396,139.97" stroke="#333" stroke-width="0.5" fill="none"/>
<rect x="262.63" y="142.64" width="3.5" height="3.5" fill="#cfe7fb" stroke="#4a4a4a" stroke-width="0.6"/><rect x="267.01" y="145.63" width="3.5" height="3.5" fill="#cfe7fb" stroke="#4a4a4a" stroke-width="0.6"/><rect x="271.4" y="145.63" width="3.5" height="3.5" fill="#cfe7fb" stroke="#4a4a4a" stroke-width="0.6"/><rect x="275.79" y="127.7" width="3.5" height="3.5" fill="#cfe7fb" stroke="#4a4a4a" stroke-width="0.6"/><rect x="280.18" y="130.69" width="3.5" height="3.5" fill="#cfe7fb" stroke="#4a4a4a" stroke-width="0.6"/><rect x="284.56" y="132.12" width="3.5" height="3.5" fill="#cfe7fb" stroke="#4a4a4a" stroke-width="0.6"/><rect x="288.95" y="133.56" width="3.5" height="3.5" fill="#cfe7fb" stroke="#4a4a4a" stroke-width="0.6"/><rect x="293.34" y="134.39" width="3.5" height="3.5" fill="#cfe7fb" stroke="#4a4a4a" stroke-width="0.6"/><rect x="297.73" y="134.99" width="3.5" height="3.5" fill="#cfe7fb" stroke="#4a4a4a" stroke-width="0.6"/><rect x="302.11" y="135.95" width="3.5" height="3.5" fill="#cfe7fb" stroke="#4a4a4a" stroke-width="0.6"/><rect x="306.5" y="136.55" width="3.5" height="3.5" fill="#cfe7fb" stroke="#4a4a4a" stroke-width="0.6"/><rect x="310.89" y="139.29" width="3.5" height="3.5" fill="#cfe7fb" stroke="#4a4a4a" stroke-width="0.6"/><rect x="315.28" y="138.82" width="3.5" height="3.5" fill="#cfe7fb" stroke="#4a4a4a" stroke-width="0.6"/><rect x="319.66" y="137.26" width="3.5" height="3.5" fill="#cfe7fb" stroke="#4a4a4a" stroke-width="0.6"/><rect x="324.05" y="136.66" width="3.5" height="3.5" fill="#cfe7fb" stroke="#4a4a4a" stroke-width="0.6"/><rect x="328.44" y="136.07" width="3.5" height="3.5" fill="#cfe7fb" stroke="#4a4a4a" stroke-width="0.6"/><rect x="332.83" y="136.07" width="3.5" height="3.5" fill="#cfe7fb" stroke="#4a4a4a" stroke-width="0.6"/><rect x="337.21" y="136.07" width="3.5" height="3.5" fill="#cfe7fb" stroke="#4a4a4a" stroke-width="0.6"/><rect x="341.6" y="136.07" width="3.5" height="3.5" fill="#cfe7fb" stroke="#4a4a4a" stroke-width="0.6"/><rect x="345.99" y="136.07" width="3.5" height="3.5" fill="#cfe7fb" stroke="#4a4a4a" stroke-width="0.6"/><rect x="350.38" y="136.07" width="3.5" height="3.5" fill="#cfe7fb" stroke="#4a4a4a" stroke-width="0.6"/><rect x="354.76" y="136.07" width="3.5" height="3.5" fill="#cfe7fb" stroke="#4a4a4a" stroke-width="0.6"/><rect x="359.15" y="136.07" width="3.5" height="3.5" fill="#cfe7fb" stroke="#4a4a4a" stroke-width="0.6"/><rect x="363.54" y="136.07" width="3.5" height="3.5" fill="#cfe7fb" stroke="#4a4a4a" stroke-width="0.6"/><rect x="367.93" y="138.22" width="3.5" height="3.5" fill="#cfe7fb" stroke="#4a4a4a" stroke-width="0.6"/><rect x="372.31" y="138.22" width="3.5" height="3.5" fill="#cfe7fb" stroke="#4a4a4a" stroke-width="0.6"/><rect x="376.7" y="138.22" width="3.5" height="3.5" fill="#cfe7fb" stroke="#4a4a4a" stroke-width="0.6"/><rect x="381.09" y="138.22" width="3.5" height="3.5" fill="#cfe7fb" stroke="#4a4a4a" stroke-width="0.6"/><rect x="385.48" y="138.22" width="3.5" height="3.5" fill="#cfe7fb" stroke="#4a4a4a" stroke-width="0.6"/><rect x="389.86" y="138.22" width="3.5" height="3.5" fill="#cfe7fb" stroke="#4a4a4a" stroke-width="0.6"/><rect x="394.25" y="138.22" width="3.5" height="3.5" fill="#cfe7fb" stroke="#4a4a4a" stroke-width="0.6"/>
<path d="M264.38,143.79V148.57M262.78,143.79H265.98M262.78,148.57H265.98M268.76,146.78V151.56M267.16,146.78H270.36M267.16,151.56H270.36M273.15,146.78V151.56M271.55,146.78H274.75M271.55,151.56H274.75M277.54,128.86V133.63M275.94,128.86H279.14M275.94,133.63H279.14M281.93,131.84V136.62M280.33,131.84H283.53M280.33,136.62H283.53M286.31,133.28V138.06M284.71,133.28H287.91M284.71,138.06H287.91M290.7,134.71V139.49M289.1,134.71H292.3M289.1,139.49H292.3M295.09,135.55V140.33M293.49,135.55H296.69M293.49,140.33H296.69M299.48,136.14V140.92M297.88,136.14H301.08M297.88,140.92H301.08M303.86,137.1V141.88M302.26,137.1H305.46M302.26,141.88H305.46M308.25,137.7V142.48M306.65,137.7H309.85M306.65,142.48H309.85M312.64,140.45V145.23M311.04,140.45H314.24M311.04,145.23H314.24M317.03,139.97V144.75M315.43,139.97H318.63M315.43,144.75H318.63M321.41,138.42V143.19M319.81,138.42H323.01M319.81,143.19H323.01M325.8,137.82V142.6M324.2,137.82H327.4M324.2,142.6H327.4M330.19,137.22V142M328.59,137.22H331.79M328.59,142H331.79M334.58,137.22V142M332.98,137.22H336.18M332.98,142H336.18M338.96,137.22V142M337.36,137.22H340.56M337.36,142H340.56M343.35,137.22V142M341.75,137.22H344.95M341.75,142H344.95M347.74,137.22V142M346.14,137.22H349.34M346.14,142H349.34M352.13,137.22V142M350.53,137.22H353.73M350.53,142H353.73M356.51,137.22V142M354.91,137.22H358.11M354.91,142H358.11M360.9,137.22V142M359.3,137.22H362.5M359.3,142H362.5M365.29,137.22V142M363.69,137.22H366.89M363.69,142H366.89M369.68,147.02V150.6M368.08,147.02H371.28M368.08,150.6H371.28M374.06,149.41V152.99M372.46,149.41H375.66M372.46,152.99H375.66M378.45,149.41V152.99M376.85,149.41H380.05M376.85,152.99H380.05M382.84,148.21V151.8M381.24,148.21H384.44M381.24,151.8H384.44M387.23,147.02V150.6M385.63,147.02H388.83M385.63,150.6H388.83M391.61,145.82V149.41M390.01,145.82H393.21M390.01,149.41H393.21M396,145.59V149.17M394.4,145.59H397.6M394.4,149.17H397.6" stroke="#3a3a3a" stroke-width="0.5" fill="none"/>
<path d="M264.38,146.18L268.76,149.17L273.15,149.17L277.54,131.25L281.93,134.23L286.31,135.67L290.7,137.1L295.09,137.94L299.48,138.53L303.86,139.49L308.25,140.09L312.64,142.84L317.03,142.36L321.41,140.81L325.8,140.21L330.19,139.61L334.58,139.61L338.96,139.61L343.35,139.61L347.74,139.61L352.13,139.61L356.51,139.61L360.9,139.61L365.29,139.61L369.68,148.81L374.06,151.2L378.45,151.2L382.84,150.01L387.23,148.81L391.61,147.62L396,147.38" stroke="#333" stroke-width="0.5" fill="none"/>
<rect x="262.63" y="144.43" width="3.5" height="3.5" fill="#4a80e0" stroke="#1c2230" stroke-width="0.6"/><rect x="267.01" y="147.42" width="3.5" height="3.5" fill="#4a80e0" stroke="#1c2230" stroke-width="0.6"/><rect x="271.4" y="147.42" width="3.5" height="3.5" fill="#4a80e0" stroke="#1c2230" stroke-width="0.6"/><rect x="275.79" y="129.5" width="3.5" height="3.5" fill="#4a80e0" stroke="#1c2230" stroke-width="0.6"/><rect x="280.18" y="132.48" width="3.5" height="3.5" fill="#4a80e0" stroke="#1c2230" stroke-width="0.6"/><rect x="284.56" y="133.92" width="3.5" height="3.5" fill="#4a80e0" stroke="#1c2230" stroke-width="0.6"/><rect x="288.95" y="135.35" width="3.5" height="3.5" fill="#4a80e0" stroke="#1c2230" stroke-width="0.6"/><rect x="293.34" y="136.19" width="3.5" height="3.5" fill="#4a80e0" stroke="#1c2230" stroke-width="0.6"/><rect x="297.73" y="136.78" width="3.5" height="3.5" fill="#4a80e0" stroke="#1c2230" stroke-width="0.6"/><rect x="302.11" y="137.74" width="3.5" height="3.5" fill="#4a80e0" stroke="#1c2230" stroke-width="0.6"/><rect x="306.5" y="138.34" width="3.5" height="3.5" fill="#4a80e0" stroke="#1c2230" stroke-width="0.6"/><rect x="310.89" y="141.09" width="3.5" height="3.5" fill="#4a80e0" stroke="#1c2230" stroke-width="0.6"/><rect x="315.28" y="140.61" width="3.5" height="3.5" fill="#4a80e0" stroke="#1c2230" stroke-width="0.6"/><rect x="319.66" y="139.06" width="3.5" height="3.5" fill="#4a80e0" stroke="#1c2230" stroke-width="0.6"/><rect x="324.05" y="138.46" width="3.5" height="3.5" fill="#4a80e0" stroke="#1c2230" stroke-width="0.6"/><rect x="328.44" y="137.86" width="3.5" height="3.5" fill="#4a80e0" stroke="#1c2230" stroke-width="0.6"/><rect x="332.83" y="137.86" width="3.5" height="3.5" fill="#4a80e0" stroke="#1c2230" stroke-width="0.6"/><rect x="337.21" y="137.86" width="3.5" height="3.5" fill="#4a80e0" stroke="#1c2230" stroke-width="0.6"/><rect x="341.6" y="137.86" width="3.5" height="3.5" fill="#4a80e0" stroke="#1c2230" stroke-width="0.6"/><rect x="345.99" y="137.86" width="3.5" height="3.5" fill="#4a80e0" stroke="#1c2230" stroke-width="0.6"/><rect x="350.38" y="137.86" width="3.5" height="3.5" fill="#4a80e0" stroke="#1c2230" stroke-width="0.6"/><rect x="354.76" y="137.86" width="3.5" height="3.5" fill="#4a80e0" stroke="#1c2230" stroke-width="0.6"/><rect x="359.15" y="137.86" width="3.5" height="3.5" fill="#4a80e0" stroke="#1c2230" stroke-width="0.6"/><rect x="363.54" y="137.86" width="3.5" height="3.5" fill="#4a80e0" stroke="#1c2230" stroke-width="0.6"/><rect x="367.93" y="147.06" width="3.5" height="3.5" fill="#4a80e0" stroke="#1c2230" stroke-width="0.6"/><rect x="372.31" y="149.45" width="3.5" height="3.5" fill="#4a80e0" stroke="#1c2230" stroke-width="0.6"/><rect x="376.7" y="149.45" width="3.5" height="3.5" fill="#4a80e0" stroke="#1c2230" stroke-width="0.6"/><rect x="381.09" y="148.26" width="3.5" height="3.5" fill="#4a80e0" stroke="#1c2230" stroke-width="0.6"/><rect x="385.48" y="147.06" width="3.5" height="3.5" fill="#4a80e0" stroke="#1c2230" stroke-width="0.6"/><rect x="389.86" y="145.87" width="3.5" height="3.5" fill="#4a80e0" stroke="#1c2230" stroke-width="0.6"/><rect x="394.25" y="145.63" width="3.5" height="3.5" fill="#4a80e0" stroke="#1c2230" stroke-width="0.6"/>
<path d="M264.38,146.42V151.2M262.78,146.42H265.98M262.78,151.2H265.98M268.76,146.78V151.56M267.16,146.78H270.36M267.16,151.56H270.36M273.15,146.78V151.56M271.55,146.78H274.75M271.55,151.56H274.75M277.54,84.88V101.61M275.94,84.88H279.14M275.94,101.61H279.14M281.93,81.29V102.8M280.33,81.29H283.53M280.33,102.8H283.53M286.31,81.29V102.8M284.71,81.29H287.91M284.71,102.8H287.91M290.7,82.01V103.52M289.1,82.01H292.3M289.1,103.52H292.3M295.09,83.62V105.13M293.49,83.62H296.69M293.49,105.13H296.69M299.48,85.24V106.75M297.88,85.24H301.08M297.88,106.75H301.08M303.86,86.73V108.24M302.26,86.73H305.46M302.26,108.24H305.46M308.25,88.23V109.73M306.65,88.23H309.85M306.65,109.73H309.85M312.64,89.54V111.05M311.04,89.54H314.24M311.04,111.05H314.24M317.03,88.82V110.33M315.43,88.82H318.63M315.43,110.33H318.63M321.41,87.03V108.54M319.81,87.03H323.01M319.81,108.54H323.01M325.8,84.04V105.55M324.2,84.04H327.4M324.2,105.55H327.4M330.19,81.06V102.56M328.59,81.06H331.79M328.59,102.56H331.79M334.58,77.47V98.98M332.98,77.47H336.18M332.98,98.98H336.18M338.96,73.89V95.39M337.36,73.89H340.56M337.36,95.39H340.56M343.35,70.3V91.81M341.75,70.3H344.95M341.75,91.81H344.95M347.74,68.03V89.54M346.14,68.03H349.34M346.14,89.54H349.34M352.13,66.72V88.22M350.53,66.72H353.73M350.53,88.22H353.73M356.51,64.44V85.95M354.91,64.44H358.11M354.91,85.95H358.11M360.9,62.05V83.56M359.3,62.05H362.5M359.3,83.56H362.5M365.29,59.66V81.17M363.69,59.66H366.89M363.69,81.17H366.89M369.68,61.34V78.07M368.08,61.34H371.28M368.08,78.07H371.28M374.06,61.24V77.97M372.46,61.24H375.66M372.46,77.97H375.66M378.45,61.14V77.87M376.85,61.14H380.05M376.85,77.87H380.05M382.84,61.04V77.77M381.24,61.04H384.44M381.24,77.77H384.44M387.23,60.94V77.67M385.63,60.94H388.83M385.63,77.67H388.83M391.61,60.84V77.57M390.01,60.84H393.21M390.01,77.57H393.21M396,60.74V77.47M394.4,60.74H397.6M394.4,77.47H397.6" stroke="#3a3a3a" stroke-width="0.5" fill="none"/>
<path d="M264.38,148.81L268.76,149.17L273.15,149.17L277.54,93.24L281.93,92.05L286.31,92.05L290.7,92.77L295.09,94.38L299.48,95.99L303.86,97.49L308.25,98.98L312.64,100.29L317.03,99.58L321.41,97.78L325.8,94.8L330.19,91.81L334.58,88.23L338.96,84.64L343.35,81.06L347.74,78.78L352.13,77.47L356.51,75.2L360.9,72.81L365.29,70.42L369.68,69.7L374.06,69.6L378.45,69.5L382.84,69.4L387.23,69.3L391.61,69.2L396,69.11" stroke="#333" stroke-width="0.5" fill="none"/>
<circle cx="264.38" cy="148.81" r="1.9" fill="#ffffff" stroke="#2a2a2a" stroke-width="0.6"/><circle cx="268.76" cy="149.17" r="1.9" fill="#ffffff" stroke="#2a2a2a" stroke-width="0.6"/><circle cx="273.15" cy="149.17" r="1.9" fill="#ffffff" stroke="#2a2a2a" stroke-width="0.6"/><circle cx="277.54" cy="93.24" r="1.9" fill="#ffffff" stroke="#2a2a2a" stroke-width="0.6"/><circle cx="281.93" cy="92.05" r="1.9" fill="#ffffff" stroke="#2a2a2a" stroke-width="0.6"/><circle cx="286.31" cy="92.05" r="1.9" fill="#ffffff" stroke="#2a2a2a" stroke-width="0.6"/><circle cx="290.7" cy="92.77" r="1.9" fill="#ffffff" stroke="#2a2a2a" stroke-width="0.6"/><circle cx="295.09" cy="94.38" r="1.9" fill="#ffffff" stroke="#2a2a2a" stroke-width="0.6"/><circle cx="299.48" cy="95.99" r="1.9" fill="#ffffff" stroke="#2a2a2a" stroke-width="0.6"/><circle cx="303.86" cy="97.49" r="1.9" fill="#ffffff" stroke="#2a2a2a" stroke-width="0.6"/><circle cx="308.25" cy="98.98" r="1.9" fill="#ffffff" stroke="#2a2a2a" stroke-width="0.6"/><circle cx="312.64" cy="100.29" r="1.9" fill="#ffffff" stroke="#2a2a2a" stroke-width="0.6"/><circle cx="317.03" cy="99.58" r="1.9" fill="#ffffff" stroke="#2a2a2a" stroke-width="0.6"/><circle cx="321.41" cy="97.78" r="1.9" fill="#ffffff" stroke="#2a2a2a" stroke-width="0.6"/><circle cx="325.8" cy="94.8" r="1.9" fill="#ffffff" stroke="#2a2a2a" stroke-width="0.6"/><circle cx="330.19" cy="91.81" r="1.9" fill="#ffffff" stroke="#2a2a2a" stroke-width="0.6"/><circle cx="334.58" cy="88.23" r="1.9" fill="#ffffff" stroke="#2a2a2a" stroke-width="0.6"/><circle cx="338.96" cy="84.64" r="1.9" fill="#ffffff" stroke="#2a2a2a" stroke-width="0.6"/><circle cx="343.35" cy="81.06" r="1.9" fill="#ffffff" stroke="#2a2a2a" stroke-width="0.6"/><circle cx="347.74" cy="78.78" r="1.9" fill="#ffffff" stroke="#2a2a2a" stroke-width="0.6"/><circle cx="352.13" cy="77.47" r="1.9" fill="#ffffff" stroke="#2a2a2a" stroke-width="0.6"/><circle cx="356.51" cy="75.2" r="1.9" fill="#ffffff" stroke="#2a2a2a" stroke-width="0.6"/><circle cx="360.9" cy="72.81" r="1.9" fill="#ffffff" stroke="#2a2a2a" stroke-width="0.6"/><circle cx="365.29" cy="70.42" r="1.9" fill="#ffffff" stroke="#2a2a2a" stroke-width="0.6"/><circle cx="369.68" cy="69.7" r="1.9" fill="#ffffff" stroke="#2a2a2a" stroke-width="0.6"/><circle cx="374.06" cy="69.6" r="1.9" fill="#ffffff" stroke="#2a2a2a" stroke-width="0.6"/><circle cx="378.45" cy="69.5" r="1.9" fill="#ffffff" stroke="#2a2a2a" stroke-width="0.6"/><circle cx="382.84" cy="69.4" r="1.9" fill="#ffffff" stroke="#2a2a2a" stroke-width="0.6"/><circle cx="387.23" cy="69.3" r="1.9" fill="#ffffff" stroke="#2a2a2a" stroke-width="0.6"/><circle cx="391.61" cy="69.2" r="1.9" fill="#ffffff" stroke="#2a2a2a" stroke-width="0.6"/><circle cx="396" cy="69.11" r="1.9" fill="#ffffff" stroke="#2a2a2a" stroke-width="0.6"/>
<path d="M264.38,146.42V151.2M262.78,146.42H265.98M262.78,151.2H265.98M268.76,146.78V151.56M267.16,146.78H270.36M267.16,151.56H270.36M273.15,146.78V151.56M271.55,146.78H274.75M271.55,151.56H274.75M277.54,81.29V105.19M275.94,81.29H279.14M275.94,105.19H279.14M281.93,78.31V105.79M280.33,78.31H283.53M280.33,105.79H283.53M286.31,78.31V105.79M284.71,78.31H287.91M284.71,105.79H287.91M290.7,79.02V106.51M289.1,79.02H292.3M289.1,106.51H292.3M295.09,80.64V108.12M293.49,80.64H296.69M293.49,108.12H296.69M299.48,82.25V109.74M297.88,82.25H301.08M297.88,109.74H301.08M303.86,83.74V111.23M302.26,83.74H305.46M302.26,111.23H305.46M308.25,85.24V112.72M306.65,85.24H309.85M306.65,112.72H309.85M312.64,86.55V114.04M311.04,86.55H314.24M311.04,114.04H314.24M317.03,85.83V113.32M315.43,85.83H318.63M315.43,113.32H318.63M321.41,84.04V111.53M319.81,84.04H323.01M319.81,111.53H323.01M325.8,81.05V108.54M324.2,81.05H327.4M324.2,108.54H327.4M330.19,78.07V105.55M328.59,78.07H331.79M328.59,105.55H331.79M334.58,74.48V101.97M332.98,74.48H336.18M332.98,101.97H336.18M338.96,70.9V98.38M337.36,70.9H340.56M337.36,98.38H340.56M343.35,67.31V94.8M341.75,67.31H344.95M341.75,94.8H344.95M347.74,65.04V92.53M346.14,65.04H349.34M346.14,92.53H349.34M352.13,63.73V91.21M350.53,63.73H353.73M350.53,91.21H353.73M356.51,61.46V88.94M354.91,61.46H358.11M354.91,88.94H358.11M360.9,59.07V86.55M359.3,59.07H362.5M359.3,86.55H362.5M365.29,56.68V84.16M363.69,56.68H366.89M363.69,84.16H366.89M369.68,60.14V79.26M368.08,60.14H371.28M368.08,79.26H371.28M374.06,60.04V79.16M372.46,60.04H375.66M372.46,79.16H375.66M378.45,59.94V79.06M376.85,59.94H380.05M376.85,79.06H380.05M382.84,59.84V78.96M381.24,59.84H384.44M381.24,78.96H384.44M387.23,59.74V78.86M385.63,59.74H388.83M385.63,78.86H388.83M391.61,59.64V78.76M390.01,59.64H393.21M390.01,78.76H393.21M396,59.55V78.67M394.4,59.55H397.6M394.4,78.67H397.6" stroke="#3a3a3a" stroke-width="0.5" fill="none"/>
<path d="M264.38,148.81L268.76,149.17L273.15,149.17L277.54,93.24L281.93,92.05L286.31,92.05L290.7,92.77L295.09,94.38L299.48,95.99L303.86,97.49L308.25,98.98L312.64,100.29L317.03,99.58L321.41,97.78L325.8,94.8L330.19,91.81L334.58,88.23L338.96,84.64L343.35,81.06L347.74,78.78L352.13,77.47L356.51,75.2L360.9,72.81L365.29,70.42L369.68,69.7L374.06,69.6L378.45,69.5L382.84,69.4L387.23,69.3L391.61,69.2L396,69.11" stroke="#333" stroke-width="0.5" fill="none"/>
<circle cx="264.38" cy="148.81" r="1.9" fill="#b8b8b8" stroke="#2a2a2a" stroke-width="0.6"/><circle cx="268.76" cy="149.17" r="1.9" fill="#b8b8b8" stroke="#2a2a2a" stroke-width="0.6"/><circle cx="273.15" cy="149.17" r="1.9" fill="#b8b8b8" stroke="#2a2a2a" stroke-width="0.6"/><circle cx="277.54" cy="93.24" r="1.9" fill="#b8b8b8" stroke="#2a2a2a" stroke-width="0.6"/><circle cx="281.93" cy="92.05" r="1.9" fill="#b8b8b8" stroke="#2a2a2a" stroke-width="0.6"/><circle cx="286.31" cy="92.05" r="1.9" fill="#b8b8b8" stroke="#2a2a2a" stroke-width="0.6"/><circle cx="290.7" cy="92.77" r="1.9" fill="#b8b8b8" stroke="#2a2a2a" stroke-width="0.6"/><circle cx="295.09" cy="94.38" r="1.9" fill="#b8b8b8" stroke="#2a2a2a" stroke-width="0.6"/><circle cx="299.48" cy="95.99" r="1.9" fill="#b8b8b8" stroke="#2a2a2a" stroke-width="0.6"/><circle cx="303.86" cy="97.49" r="1.9" fill="#b8b8b8" stroke="#2a2a2a" stroke-width="0.6"/><circle cx="308.25" cy="98.98" r="1.9" fill="#b8b8b8" stroke="#2a2a2a" stroke-width="0.6"/><circle cx="312.64" cy="100.29" r="1.9" fill="#b8b8b8" stroke="#2a2a2a" stroke-width="0.6"/><circle cx="317.03" cy="99.58" r="1.9" fill="#b8b8b8" stroke="#2a2a2a" stroke-width="0.6"/><circle cx="321.41" cy="97.78" r="1.9" fill="#b8b8b8" stroke="#2a2a2a" stroke-width="0.6"/><circle cx="325.8" cy="94.8" r="1.9" fill="#b8b8b8" stroke="#2a2a2a" stroke-width="0.6"/><circle cx="330.19" cy="91.81" r="1.9" fill="#b8b8b8" stroke="#2a2a2a" stroke-width="0.6"/><circle cx="334.58" cy="88.23" r="1.9" fill="#b8b8b8" stroke="#2a2a2a" stroke-width="0.6"/><circle cx="338.96" cy="84.64" r="1.9" fill="#b8b8b8" stroke="#2a2a2a" stroke-width="0.6"/><circle cx="343.35" cy="81.06" r="1.9" fill="#b8b8b8" stroke="#2a2a2a" stroke-width="0.6"/><circle cx="347.74" cy="78.78" r="1.9" fill="#b8b8b8" stroke="#2a2a2a" stroke-width="0.6"/><circle cx="352.13" cy="77.47" r="1.9" fill="#b8b8b8" stroke="#2a2a2a" stroke-width="0.6"/><circle cx="356.51" cy="75.2" r="1.9" fill="#b8b8b8" stroke="#2a2a2a" stroke-width="0.6"/><circle cx="360.9" cy="72.81" r="1.9" fill="#b8b8b8" stroke="#2a2a2a" stroke-width="0.6"/><circle cx="365.29" cy="70.42" r="1.9" fill="#b8b8b8" stroke="#2a2a2a" stroke-width="0.6"/><circle cx="369.68" cy="69.7" r="1.9" fill="#b8b8b8" stroke="#2a2a2a" stroke-width="0.6"/><circle cx="374.06" cy="69.6" r="1.9" fill="#b8b8b8" stroke="#2a2a2a" stroke-width="0.6"/><circle cx="378.45" cy="69.5" r="1.9" fill="#b8b8b8" stroke="#2a2a2a" stroke-width="0.6"/><circle cx="382.84" cy="69.4" r="1.9" fill="#b8b8b8" stroke="#2a2a2a" stroke-width="0.6"/><circle cx="387.23" cy="69.3" r="1.9" fill="#b8b8b8" stroke="#2a2a2a" stroke-width="0.6"/><circle cx="391.61" cy="69.2" r="1.9" fill="#b8b8b8" stroke="#2a2a2a" stroke-width="0.6"/><circle cx="396" cy="69.11" r="1.9" fill="#b8b8b8" stroke="#2a2a2a" stroke-width="0.6"/>
<path d="M47.4,259.6V383.5H190.2" stroke="#767676" stroke-width="1.1" fill="none"/>
<path d="M45.8,383.5H47.4M45.8,358.72H47.4M45.8,333.94H47.4M45.8,309.16H47.4M45.8,284.38H47.4M45.8,259.6H47.4M47.4,383.5V385.1M83.1,383.5V385.1M118.8,383.5V385.1M154.5,383.5V385.1M190.2,383.5V385.1" stroke="#767676" stroke-width="1.1" fill="none"/>
<text x="44.4" y="387.42" font-size="11.2" text-anchor="end" fill="#000" stroke="#000" stroke-width="0.22" >0</text>
<text x="44.4" y="362.64" font-size="11.2" text-anchor="end" fill="#000" stroke="#000" stroke-width="0.22" >20</text>
<text x="44.4" y="337.86" font-size="11.2" text-anchor="end" fill="#000" stroke="#000" stroke-width="0.22" >40</text>
<text x="44.4" y="313.08" font-size="11.2" text-anchor="end" fill="#000" stroke="#000" stroke-width="0.22" >60</text>
<text x="44.4" y="288.3" font-size="11.2" text-anchor="end" fill="#000" stroke="#000" stroke-width="0.22" >80</text>
<text x="44.4" y="263.52" font-size="11.2" text-anchor="end" fill="#000" stroke="#000" stroke-width="0.22" >100</text>
<text x="47.4" y="396.7" font-size="11.2" text-anchor="middle" fill="#000" stroke="#000" stroke-width="0.22" >0</text>
<text x="83.1" y="396.7" font-size="11.2" text-anchor="middle" fill="#000" stroke="#000" stroke-width="0.22" >50</text>
<text x="118.8" y="396.7" font-size="11.2" text-anchor="middle" fill="#000" stroke="#000" stroke-width="0.22" >100</text>
<text x="154.5" y="396.7" font-size="11.2" text-anchor="middle" fill="#000" stroke="#000" stroke-width="0.22" >150</text>
<text x="190.2" y="396.7" font-size="11.2" text-anchor="middle" fill="#000" stroke="#000" stroke-width="0.22" >200</text>
<text x="119" y="415.8" font-size="14.5" text-anchor="middle" fill="#000" stroke="#000" stroke-width="0.22" >Time (minutes)</text>
<text transform="translate(22.1,318.6) rotate(-90)" font-size="14.5" text-anchor="middle" stroke="#000" stroke-width="0.22">ECAR (mpH/min)</text>
<path d="M48.22,360.21V365.16M46.62,360.21H49.82M46.62,365.16H49.82M52.86,363.3V368.26M51.26,363.3H54.46M51.26,368.26H54.46M57.5,363.3V368.26M55.9,363.3H59.1M55.9,368.26H59.1M62.14,340.38V352.77M60.54,340.38H63.74M60.54,352.77H63.74M66.79,344.22V354.14M65.19,344.22H68.39M65.19,354.14H68.39M71.43,346.02V355.31M69.83,346.02H73.03M69.83,355.31H73.03M76.07,348.31V356.99M74.47,348.31H77.67M74.47,356.99H77.67M80.71,349.74V357.79M79.11,349.74H82.31M79.11,357.79H82.31M85.35,351.29V358.72M83.75,351.29H86.95M83.75,358.72H86.95M89.99,352.57V359.91M88.39,352.57H91.59M88.39,359.91H91.59M94.63,353.85V361.11M93.03,353.85H96.23M93.03,361.11H96.23M99.27,356.13V363.3M97.67,356.13H100.87M97.67,363.3H100.87M103.91,355.18V362.26M102.31,355.18H105.51M102.31,362.26H105.51M108.55,354.85V361.84M106.95,354.85H110.15M106.95,361.84H110.15M113.2,354.53V361.43M111.6,354.53H114.8M111.6,361.43H114.8M117.84,354.23V361.04M116.24,354.23H119.44M116.24,361.04H119.44M122.48,353.93V360.66M120.88,353.93H124.08M120.88,360.66H124.08M127.12,353.64V360.27M125.52,353.64H128.72M125.52,360.27H128.72M131.76,353.34V359.89M130.16,353.34H133.36M130.16,359.89H133.36M136.4,353.38V359.84M134.8,353.38H138M134.8,359.84H138M141.04,353.43V359.8M139.44,353.43H142.64M139.44,359.8H142.64M145.68,353.47V359.76M144.08,353.47H147.28M144.08,359.76H147.28M150.32,353.52V359.71M148.72,353.52H151.92M148.72,359.71H151.92M154.96,355.25V360.21M153.36,355.25H156.56M153.36,360.21H156.56M159.61,355.25V360.21M158.01,355.25H161.21M158.01,360.21H161.21M164.25,355.25V360.21M162.65,355.25H165.85M162.65,360.21H165.85M168.89,355.25V360.21M167.29,355.25H170.49M167.29,360.21H170.49M173.53,355.25V360.21M171.93,355.25H175.13M171.93,360.21H175.13M178.17,355.25V360.21M176.57,355.25H179.77M176.57,360.21H179.77M182.81,355.25V360.21M181.21,355.25H184.41M181.21,360.21H184.41M187.45,355.25V360.21M185.85,355.25H189.05M185.85,360.21H189.05" stroke="#3a3a3a" stroke-width="0.5" fill="none"/>
<path d="M48.22,362.68L52.86,365.78L57.5,365.78L62.14,346.58L66.79,349.18L71.43,350.67L76.07,352.65L80.71,353.76L85.35,355L89.99,356.24L94.63,357.48L99.27,359.71L103.91,358.72L108.55,358.35L113.2,357.98L117.84,357.64L122.48,357.3L127.12,356.95L131.76,356.61L136.4,356.61L141.04,356.61L145.68,356.61L150.32,356.61L154.96,357.73L159.61,357.73L164.25,357.73L168.89,357.73L173.53,357.73L178.17,357.73L182.81,357.73L187.45,357.73" stroke="#333" stroke-width="0.5" fill="none"/>
<rect x="46.47" y="360.93" width="3.5" height="3.5" fill="#cfe7fb" stroke="#4a4a4a" stroke-width="0.6"/><rect x="51.11" y="364.03" width="3.5" height="3.5" fill="#cfe7fb" stroke="#4a4a4a" stroke-width="0.6"/><rect x="55.75" y="364.03" width="3.5" height="3.5" fill="#cfe7fb" stroke="#4a4a4a" stroke-width="0.6"/><rect x="60.39" y="344.83" width="3.5" height="3.5" fill="#cfe7fb" stroke="#4a4a4a" stroke-width="0.6"/><rect x="65.04" y="347.43" width="3.5" height="3.5" fill="#cfe7fb" stroke="#4a4a4a" stroke-width="0.6"/><rect x="69.68" y="348.92" width="3.5" height="3.5" fill="#cfe7fb" stroke="#4a4a4a" stroke-width="0.6"/><rect x="74.32" y="350.9" width="3.5" height="3.5" fill="#cfe7fb" stroke="#4a4a4a" stroke-width="0.6"/><rect x="78.96" y="352.01" width="3.5" height="3.5" fill="#cfe7fb" stroke="#4a4a4a" stroke-width="0.6"/><rect x="83.6" y="353.25" width="3.5" height="3.5" fill="#cfe7fb" stroke="#4a4a4a" stroke-width="0.6"/><rect x="88.24" y="354.49" width="3.5" height="3.5" fill="#cfe7fb" stroke="#4a4a4a" stroke-width="0.6"/><rect x="92.88" y="355.73" width="3.5" height="3.5" fill="#cfe7fb" stroke="#4a4a4a" stroke-width="0.6"/><rect x="97.52" y="357.96" width="3.5" height="3.5" fill="#cfe7fb" stroke="#4a4a4a" stroke-width="0.6"/><rect x="102.16" y="356.97" width="3.5" height="3.5" fill="#cfe7fb" stroke="#4a4a4a" stroke-width="0.6"/><rect x="106.8" y="356.6" width="3.5" height="3.5" fill="#cfe7fb" stroke="#4a4a4a" stroke-width="0.6"/><rect x="111.45" y="356.23" width="3.5" height="3.5" fill="#cfe7fb" stroke="#4a4a4a" stroke-width="0.6"/><rect x="116.09" y="355.89" width="3.5" height="3.5" fill="#cfe7fb" stroke="#4a4a4a" stroke-width="0.6"/><rect x="120.73" y="355.55" width="3.5" height="3.5" fill="#cfe7fb" stroke="#4a4a4a" stroke-width="0.6"/><rect x="125.37" y="355.2" width="3.5" height="3.5" fill="#cfe7fb" stroke="#4a4a4a" stroke-width="0.6"/><rect x="130.01" y="354.86" width="3.5" height="3.5" fill="#cfe7fb" stroke="#4a4a4a" stroke-width="0.6"/><rect x="134.65" y="354.86" width="3.5" height="3.5" fill="#cfe7fb" stroke="#4a4a4a" stroke-width="0.6"/><rect x="139.29" y="354.86" width="3.5" height="3.5" fill="#cfe7fb" stroke="#4a4a4a" stroke-width="0.6"/><rect x="143.93" y="354.86" width="3.5" height="3.5" fill="#cfe7fb" stroke="#4a4a4a" stroke-width="0.6"/><rect x="148.57" y="354.86" width="3.5" height="3.5" fill="#cfe7fb" stroke="#4a4a4a" stroke-width="0.6"/><rect x="153.21" y="355.98" width="3.5" height="3.5" fill="#cfe7fb" stroke="#4a4a4a" stroke-width="0.6"/><rect x="157.86" y="355.98" width="3.5" height="3.5" fill="#cfe7fb" stroke="#4a4a4a" stroke-width="0.6"/><rect x="162.5" y="355.98" width="3.5" height="3.5" fill="#cfe7fb" stroke="#4a4a4a" stroke-width="0.6"/><rect x="167.14" y="355.98" width="3.5" height="3.5" fill="#cfe7fb" stroke="#4a4a4a" stroke-width="0.6"/><rect x="171.78" y="355.98" width="3.5" height="3.5" fill="#cfe7fb" stroke="#4a4a4a" stroke-width="0.6"/><rect x="176.42" y="355.98" width="3.5" height="3.5" fill="#cfe7fb" stroke="#4a4a4a" stroke-width="0.6"/><rect x="181.06" y="355.98" width="3.5" height="3.5" fill="#cfe7fb" stroke="#4a4a4a" stroke-width="0.6"/><rect x="185.7" y="355.98" width="3.5" height="3.5" fill="#cfe7fb" stroke="#4a4a4a" stroke-width="0.6"/>
<path d="M48.22,360.21V365.16M46.62,360.21H49.82M46.62,365.16H49.82M52.86,363.3V368.26M51.26,363.3H54.46M51.26,368.26H54.46M57.5,363.3V368.26M55.9,363.3H59.1M55.9,368.26H59.1M62.14,344.1V349.06M60.54,344.1H63.74M60.54,349.06H63.74M66.79,346.7V351.66M65.19,346.7H68.39M65.19,351.66H68.39M71.43,348.19V353.14M69.83,348.19H73.03M69.83,353.14H73.03M76.07,350.17V355.13M74.47,350.17H77.67M74.47,355.13H77.67M80.71,351.29V356.24M79.11,351.29H82.31M79.11,356.24H82.31M85.35,352.52V357.48M83.75,352.52H86.95M83.75,357.48H86.95M89.99,353.76V358.72M88.39,353.76H91.59M88.39,358.72H91.59M94.63,355V359.96M93.03,355H96.23M93.03,359.96H96.23M99.27,357.23V362.19M97.67,357.23H100.87M97.67,362.19H100.87M103.91,356.24V361.2M102.31,356.24H105.51M102.31,361.2H105.51M108.55,355.87V360.83M106.95,355.87H110.15M106.95,360.83H110.15M113.2,355.5V360.45M111.6,355.5H114.8M111.6,360.45H114.8M117.84,355.16V360.11M116.24,355.16H119.44M116.24,360.11H119.44M122.48,354.82V359.77M120.88,354.82H124.08M120.88,359.77H124.08M127.12,354.48V359.43M125.52,354.48H128.72M125.52,359.43H128.72M131.76,354.14V359.09M130.16,354.14H133.36M130.16,359.09H133.36M136.4,354.14V359.09M134.8,354.14H138M134.8,359.09H138M141.04,354.14V359.09M139.44,354.14H142.64M139.44,359.09H142.64M145.68,354.14V359.09M144.08,354.14H147.28M144.08,359.09H147.28M150.32,354.14V359.09M148.72,354.14H151.92M148.72,359.09H151.92M154.96,360.08V363.8M153.36,360.08H156.56M153.36,363.8H156.56M159.61,360.1V363.82M158.01,360.1H161.21M158.01,363.82H161.21M164.25,360.12V363.84M162.65,360.12H165.85M162.65,363.84H165.85M168.89,360.14V363.85M167.29,360.14H170.49M167.29,363.85H170.49M173.53,360.15V363.87M171.93,360.15H175.13M171.93,363.87H175.13M178.17,360.17V363.89M176.57,360.17H179.77M176.57,363.89H179.77M182.81,360.19V363.91M181.21,360.19H184.41M181.21,363.91H184.41M187.45,360.21V363.92M185.85,360.21H189.05M185.85,363.92H189.05" stroke="#3a3a3a" stroke-width="0.5" fill="none"/>
<path d="M48.22,362.68L52.86,365.78L57.5,365.78L62.14,346.58L66.79,349.18L71.43,350.67L76.07,352.65L80.71,353.76L85.35,355L89.99,356.24L94.63,357.48L99.27,359.71L103.91,358.72L108.55,358.35L113.2,357.98L117.84,357.64L122.48,357.3L127.12,356.95L131.76,356.61L136.4,356.61L141.04,356.61L145.68,356.61L150.32,356.61L154.96,361.94L159.61,361.96L164.25,361.98L168.89,361.99L173.53,362.01L178.17,362.03L182.81,362.05L187.45,362.07" stroke="#333" stroke-width="0.5" fill="none"/>
<rect x="46.47" y="360.93" width="3.5" height="3.5" fill="#4a80e0" stroke="#1c2230" stroke-width="0.6"/><rect x="51.11" y="364.03" width="3.5" height="3.5" fill="#4a80e0" stroke="#1c2230" stroke-width="0.6"/><rect x="55.75" y="364.03" width="3.5" height="3.5" fill="#4a80e0" stroke="#1c2230" stroke-width="0.6"/><rect x="60.39" y="344.83" width="3.5" height="3.5" fill="#4a80e0" stroke="#1c2230" stroke-width="0.6"/><rect x="65.04" y="347.43" width="3.5" height="3.5" fill="#4a80e0" stroke="#1c2230" stroke-width="0.6"/><rect x="69.68" y="348.92" width="3.5" height="3.5" fill="#4a80e0" stroke="#1c2230" stroke-width="0.6"/><rect x="74.32" y="350.9" width="3.5" height="3.5" fill="#4a80e0" stroke="#1c2230" stroke-width="0.6"/><rect x="78.96" y="352.01" width="3.5" height="3.5" fill="#4a80e0" stroke="#1c2230" stroke-width="0.6"/><rect x="83.6" y="353.25" width="3.5" height="3.5" fill="#4a80e0" stroke="#1c2230" stroke-width="0.6"/><rect x="88.24" y="354.49" width="3.5" height="3.5" fill="#4a80e0" stroke="#1c2230" stroke-width="0.6"/><rect x="92.88" y="355.73" width="3.5" height="3.5" fill="#4a80e0" stroke="#1c2230" stroke-width="0.6"/><rect x="97.52" y="357.96" width="3.5" height="3.5" fill="#4a80e0" stroke="#1c2230" stroke-width="0.6"/><rect x="102.16" y="356.97" width="3.5" height="3.5" fill="#4a80e0" stroke="#1c2230" stroke-width="0.6"/><rect x="106.8" y="356.6" width="3.5" height="3.5" fill="#4a80e0" stroke="#1c2230" stroke-width="0.6"/><rect x="111.45" y="356.23" width="3.5" height="3.5" fill="#4a80e0" stroke="#1c2230" stroke-width="0.6"/><rect x="116.09" y="355.89" width="3.5" height="3.5" fill="#4a80e0" stroke="#1c2230" stroke-width="0.6"/><rect x="120.73" y="355.55" width="3.5" height="3.5" fill="#4a80e0" stroke="#1c2230" stroke-width="0.6"/><rect x="125.37" y="355.2" width="3.5" height="3.5" fill="#4a80e0" stroke="#1c2230" stroke-width="0.6"/><rect x="130.01" y="354.86" width="3.5" height="3.5" fill="#4a80e0" stroke="#1c2230" stroke-width="0.6"/><rect x="134.65" y="354.86" width="3.5" height="3.5" fill="#4a80e0" stroke="#1c2230" stroke-width="0.6"/><rect x="139.29" y="354.86" width="3.5" height="3.5" fill="#4a80e0" stroke="#1c2230" stroke-width="0.6"/><rect x="143.93" y="354.86" width="3.5" height="3.5" fill="#4a80e0" stroke="#1c2230" stroke-width="0.6"/><rect x="148.57" y="354.86" width="3.5" height="3.5" fill="#4a80e0" stroke="#1c2230" stroke-width="0.6"/><rect x="153.21" y="360.19" width="3.5" height="3.5" fill="#4a80e0" stroke="#1c2230" stroke-width="0.6"/><rect x="157.86" y="360.21" width="3.5" height="3.5" fill="#4a80e0" stroke="#1c2230" stroke-width="0.6"/><rect x="162.5" y="360.23" width="3.5" height="3.5" fill="#4a80e0" stroke="#1c2230" stroke-width="0.6"/><rect x="167.14" y="360.24" width="3.5" height="3.5" fill="#4a80e0" stroke="#1c2230" stroke-width="0.6"/><rect x="171.78" y="360.26" width="3.5" height="3.5" fill="#4a80e0" stroke="#1c2230" stroke-width="0.6"/><rect x="176.42" y="360.28" width="3.5" height="3.5" fill="#4a80e0" stroke="#1c2230" stroke-width="0.6"/><rect x="181.06" y="360.3" width="3.5" height="3.5" fill="#4a80e0" stroke="#1c2230" stroke-width="0.6"/><rect x="185.7" y="360.32" width="3.5" height="3.5" fill="#4a80e0" stroke="#1c2230" stroke-width="0.6"/>
<path d="M48.22,362.44V367.39M46.62,362.44H49.82M46.62,367.39H49.82M52.86,363.68V368.63M51.26,363.68H54.46M51.26,368.63H54.46M57.5,363.68V368.63M55.9,363.68H59.1M55.9,368.63H59.1M62.14,297.64V322.42M60.54,297.64H63.74M60.54,322.42H63.74M66.79,294.36V319.5M65.19,294.36H68.39M65.19,319.5H68.39M71.43,294.43V319.92M69.83,294.43H73.03M69.83,319.92H73.03M76.07,294.5V320.35M74.47,294.5H77.67M74.47,320.35H77.67M80.71,294.58V320.77M79.11,294.58H82.31M79.11,320.77H82.31M85.35,294.65V321.2M83.75,294.65H86.95M83.75,321.2H86.95M89.99,296.95V323.85M88.39,296.95H91.59M88.39,323.85H91.59M94.63,298.63V325.89M93.03,298.63H96.23M93.03,325.89H96.23M99.27,304.14V332.02M97.67,304.14H100.87M97.67,332.02H100.87M103.91,301.48V329.98M102.31,301.48H105.51M102.31,329.98H105.51M108.55,299.31V328.43M106.95,299.31H110.15M106.95,328.43H110.15M113.2,295.53V325.27M111.6,295.53H114.8M111.6,325.27H114.8M117.84,292.9V321.7M116.24,292.9H119.44M116.24,321.7H119.44M122.48,289.03V316.9M120.88,289.03H124.08M120.88,316.9H124.08M127.12,285.15V312.1M125.52,285.15H128.72M125.52,312.1H128.72M131.76,281.78V307.8M130.16,281.78H133.36M130.16,307.8H133.36M136.4,280.14V305.23M134.8,280.14H138M134.8,305.23H138M141.04,278.74V302.9M139.44,278.74H142.64M139.44,302.9H142.64M145.68,277.72V300.95M144.08,277.72H147.28M144.08,300.95H147.28M150.32,276.2V298.5M148.72,276.2H151.92M148.72,298.5H151.92M154.96,278.8V298.63M153.36,278.8H156.56M153.36,298.63H156.56M159.61,275.71V295.53M158.01,275.71H161.21M158.01,295.53H161.21M164.25,274.47V294.29M162.65,274.47H165.85M162.65,294.29H165.85M168.89,274.34V294.17M167.29,274.34H170.49M167.29,294.17H170.49M173.53,274.22V294.04M171.93,274.22H175.13M171.93,294.04H175.13M178.17,274.1V293.92M176.57,274.1H179.77M176.57,293.92H179.77M182.81,273.97V293.8M181.21,273.97H184.41M181.21,293.8H184.41M187.45,273.85V293.67M185.85,273.85H189.05M185.85,293.67H189.05" stroke="#3a3a3a" stroke-width="0.5" fill="none"/>
<path d="M48.22,364.92L52.86,366.15L57.5,366.15L62.14,310.03L66.79,306.93L71.43,307.18L76.07,307.43L80.71,307.67L85.35,307.92L89.99,310.4L94.63,312.26L99.27,318.08L103.91,315.73L108.55,313.87L113.2,310.4L117.84,307.3L122.48,302.96L127.12,298.63L131.76,294.79L136.4,292.68L141.04,290.82L145.68,289.34L150.32,287.35L154.96,288.72L159.61,285.62L164.25,284.38L168.89,284.26L173.53,284.13L178.17,284.01L182.81,283.88L187.45,283.76" stroke="#333" stroke-width="0.5" fill="none"/>
<circle cx="48.22" cy="364.92" r="1.9" fill="#ffffff" stroke="#2a2a2a" stroke-width="0.6"/><circle cx="52.86" cy="366.15" r="1.9" fill="#ffffff" stroke="#2a2a2a" stroke-width="0.6"/><circle cx="57.5" cy="366.15" r="1.9" fill="#ffffff" stroke="#2a2a2a" stroke-width="0.6"/><circle cx="62.14" cy="310.03" r="1.9" fill="#ffffff" stroke="#2a2a2a" stroke-width="0.6"/><circle cx="66.79" cy="306.93" r="1.9" fill="#ffffff" stroke="#2a2a2a" stroke-width="0.6"/><circle cx="71.43" cy="307.18" r="1.9" fill="#ffffff" stroke="#2a2a2a" stroke-width="0.6"/><circle cx="76.07" cy="307.43" r="1.9" fill="#ffffff" stroke="#2a2a2a" stroke-width="0.6"/><circle cx="80.71" cy="307.67" r="1.9" fill="#ffffff" stroke="#2a2a2a" stroke-width="0.6"/><circle cx="85.35" cy="307.92" r="1.9" fill="#ffffff" stroke="#2a2a2a" stroke-width="0.6"/><circle cx="89.99" cy="310.4" r="1.9" fill="#ffffff" stroke="#2a2a2a" stroke-width="0.6"/><circle cx="94.63" cy="312.26" r="1.9" fill="#ffffff" stroke="#2a2a2a" stroke-width="0.6"/><circle cx="99.27" cy="318.08" r="1.9" fill="#ffffff" stroke="#2a2a2a" stroke-width="0.6"/><circle cx="103.91" cy="315.73" r="1.9" fill="#ffffff" stroke="#2a2a2a" stroke-width="0.6"/><circle cx="108.55" cy="313.87" r="1.9" fill="#ffffff" stroke="#2a2a2a" stroke-width="0.6"/><circle cx="113.2" cy="310.4" r="1.9" fill="#ffffff" stroke="#2a2a2a" stroke-width="0.6"/><circle cx="117.84" cy="307.3" r="1.9" fill="#ffffff" stroke="#2a2a2a" stroke-width="0.6"/><circle cx="122.48" cy="302.96" r="1.9" fill="#ffffff" stroke="#2a2a2a" stroke-width="0.6"/><circle cx="127.12" cy="298.63" r="1.9" fill="#ffffff" stroke="#2a2a2a" stroke-width="0.6"/><circle cx="131.76" cy="294.79" r="1.9" fill="#ffffff" stroke="#2a2a2a" stroke-width="0.6"/><circle cx="136.4" cy="292.68" r="1.9" fill="#ffffff" stroke="#2a2a2a" stroke-width="0.6"/><circle cx="141.04" cy="290.82" r="1.9" fill="#ffffff" stroke="#2a2a2a" stroke-width="0.6"/><circle cx="145.68" cy="289.34" r="1.9" fill="#ffffff" stroke="#2a2a2a" stroke-width="0.6"/><circle cx="150.32" cy="287.35" r="1.9" fill="#ffffff" stroke="#2a2a2a" stroke-width="0.6"/><circle cx="154.96" cy="288.72" r="1.9" fill="#ffffff" stroke="#2a2a2a" stroke-width="0.6"/><circle cx="159.61" cy="285.62" r="1.9" fill="#ffffff" stroke="#2a2a2a" stroke-width="0.6"/><circle cx="164.25" cy="284.38" r="1.9" fill="#ffffff" stroke="#2a2a2a" stroke-width="0.6"/><circle cx="168.89" cy="284.26" r="1.9" fill="#ffffff" stroke="#2a2a2a" stroke-width="0.6"/><circle cx="173.53" cy="284.13" r="1.9" fill="#ffffff" stroke="#2a2a2a" stroke-width="0.6"/><circle cx="178.17" cy="284.01" r="1.9" fill="#ffffff" stroke="#2a2a2a" stroke-width="0.6"/><circle cx="182.81" cy="283.88" r="1.9" fill="#ffffff" stroke="#2a2a2a" stroke-width="0.6"/><circle cx="187.45" cy="283.76" r="1.9" fill="#ffffff" stroke="#2a2a2a" stroke-width="0.6"/>
<path d="M48.22,362.44V367.39M46.62,362.44H49.82M46.62,367.39H49.82M52.86,363.68V368.63M51.26,363.68H54.46M51.26,368.63H54.46M57.5,363.68V368.63M55.9,363.68H59.1M55.9,368.63H59.1M62.14,295.16V324.9M60.54,295.16H63.74M60.54,324.9H63.74M66.79,291.97V321.89M65.19,291.97H68.39M65.19,321.89H68.39M71.43,292.13V322.22M69.83,292.13H73.03M69.83,322.22H73.03M76.07,292.29V322.56M74.47,292.29H77.67M74.47,322.56H77.67M80.71,292.45V322.9M79.11,292.45H82.31M79.11,322.9H82.31M85.35,292.61V323.23M83.75,292.61H86.95M83.75,323.23H86.95M89.99,295V325.8M88.39,295H91.59M88.39,325.8H91.59M94.63,296.77V327.75M93.03,296.77H96.23M93.03,327.75H96.23M99.27,302.44V333.72M97.67,302.44H100.87M97.67,333.72H100.87M103.91,299.93V331.52M102.31,299.93H105.51M102.31,331.52H105.51M108.55,297.92V329.82M106.95,297.92H110.15M106.95,329.82H110.15M113.2,294.29V326.51M111.6,294.29H114.8M111.6,326.51H114.8M117.84,291.66V322.94M116.24,291.66H119.44M116.24,322.94H119.44M122.48,287.79V318.14M120.88,287.79H124.08M120.88,318.14H124.08M127.12,283.92V313.34M125.52,283.92H128.72M125.52,313.34H128.72M131.76,280.54V309.04M130.16,280.54H133.36M130.16,309.04H133.36M136.4,278.9V306.47M134.8,278.9H138M134.8,306.47H138M141.04,277.5V304.14M139.44,277.5H142.64M139.44,304.14H142.64M145.68,276.48V302.19M144.08,276.48H147.28M144.08,302.19H147.28M150.32,274.96V299.74M148.72,274.96H151.92M148.72,299.74H151.92M154.96,320.43V332.82M153.36,320.43H156.56M153.36,332.82H156.56M159.61,319.5V331.89M158.01,319.5H161.21M158.01,331.89H161.21M164.25,318.56V330.95M162.65,318.56H165.85M162.65,330.95H165.85M168.89,317.62V330.01M167.29,317.62H170.49M167.29,330.01H170.49M173.53,316.68V329.07M171.93,316.68H175.13M171.93,329.07H175.13M178.17,315.74V328.13M176.57,315.74H179.77M176.57,328.13H179.77M182.81,314.81V327.2M181.21,314.81H184.41M181.21,327.2H184.41M187.45,313.87V326.26M185.85,313.87H189.05M185.85,326.26H189.05" stroke="#3a3a3a" stroke-width="0.5" fill="none"/>
<path d="M48.22,364.92L52.86,366.15L57.5,366.15L62.14,310.03L66.79,306.93L71.43,307.18L76.07,307.43L80.71,307.67L85.35,307.92L89.99,310.4L94.63,312.26L99.27,318.08L103.91,315.73L108.55,313.87L113.2,310.4L117.84,307.3L122.48,302.96L127.12,298.63L131.76,294.79L136.4,292.68L141.04,290.82L145.68,289.34L150.32,287.35L154.96,326.63L159.61,325.69L164.25,324.75L168.89,323.82L173.53,322.88L178.17,321.94L182.81,321L187.45,320.06" stroke="#333" stroke-width="0.5" fill="none"/>
<circle cx="48.22" cy="364.92" r="1.9" fill="#b8b8b8" stroke="#2a2a2a" stroke-width="0.6"/><circle cx="52.86" cy="366.15" r="1.9" fill="#b8b8b8" stroke="#2a2a2a" stroke-width="0.6"/><circle cx="57.5" cy="366.15" r="1.9" fill="#b8b8b8" stroke="#2a2a2a" stroke-width="0.6"/><circle cx="62.14" cy="310.03" r="1.9" fill="#b8b8b8" stroke="#2a2a2a" stroke-width="0.6"/><circle cx="66.79" cy="306.93" r="1.9" fill="#b8b8b8" stroke="#2a2a2a" stroke-width="0.6"/><circle cx="71.43" cy="307.18" r="1.9" fill="#b8b8b8" stroke="#2a2a2a" stroke-width="0.6"/><circle cx="76.07" cy="307.43" r="1.9" fill="#b8b8b8" stroke="#2a2a2a" stroke-width="0.6"/><circle cx="80.71" cy="307.67" r="1.9" fill="#b8b8b8" stroke="#2a2a2a" stroke-width="0.6"/><circle cx="85.35" cy="307.92" r="1.9" fill="#b8b8b8" stroke="#2a2a2a" stroke-width="0.6"/><circle cx="89.99" cy="310.4" r="1.9" fill="#b8b8b8" stroke="#2a2a2a" stroke-width="0.6"/><circle cx="94.63" cy="312.26" r="1.9" fill="#b8b8b8" stroke="#2a2a2a" stroke-width="0.6"/><circle cx="99.27" cy="318.08" r="1.9" fill="#b8b8b8" stroke="#2a2a2a" stroke-width="0.6"/><circle cx="103.91" cy="315.73" r="1.9" fill="#b8b8b8" stroke="#2a2a2a" stroke-width="0.6"/><circle cx="108.55" cy="313.87" r="1.9" fill="#b8b8b8" stroke="#2a2a2a" stroke-width="0.6"/><circle cx="113.2" cy="310.4" r="1.9" fill="#b8b8b8" stroke="#2a2a2a" stroke-width="0.6"/><circle cx="117.84" cy="307.3" r="1.9" fill="#b8b8b8" stroke="#2a2a2a" stroke-width="0.6"/><circle cx="122.48" cy="302.96" r="1.9" fill="#b8b8b8" stroke="#2a2a2a" stroke-width="0.6"/><circle cx="127.12" cy="298.63" r="1.9" fill="#b8b8b8" stroke="#2a2a2a" stroke-width="0.6"/><circle cx="131.76" cy="294.79" r="1.9" fill="#b8b8b8" stroke="#2a2a2a" stroke-width="0.6"/><circle cx="136.4" cy="292.68" r="1.9" fill="#b8b8b8" stroke="#2a2a2a" stroke-width="0.6"/><circle cx="141.04" cy="290.82" r="1.9" fill="#b8b8b8" stroke="#2a2a2a" stroke-width="0.6"/><circle cx="145.68" cy="289.34" r="1.9" fill="#b8b8b8" stroke="#2a2a2a" stroke-width="0.6"/><circle cx="150.32" cy="287.35" r="1.9" fill="#b8b8b8" stroke="#2a2a2a" stroke-width="0.6"/><circle cx="154.96" cy="326.63" r="1.9" fill="#b8b8b8" stroke="#2a2a2a" stroke-width="0.6"/><circle cx="159.61" cy="325.69" r="1.9" fill="#b8b8b8" stroke="#2a2a2a" stroke-width="0.6"/><circle cx="164.25" cy="324.75" r="1.9" fill="#b8b8b8" stroke="#2a2a2a" stroke-width="0.6"/><circle cx="168.89" cy="323.82" r="1.9" fill="#b8b8b8" stroke="#2a2a2a" stroke-width="0.6"/><circle cx="173.53" cy="322.88" r="1.9" fill="#b8b8b8" stroke="#2a2a2a" stroke-width="0.6"/><circle cx="178.17" cy="321.94" r="1.9" fill="#b8b8b8" stroke="#2a2a2a" stroke-width="0.6"/><circle cx="182.81" cy="321" r="1.9" fill="#b8b8b8" stroke="#2a2a2a" stroke-width="0.6"/><circle cx="187.45" cy="320.06" r="1.9" fill="#b8b8b8" stroke="#2a2a2a" stroke-width="0.6"/>
<path d="M261,265.35V384.9H399.1" stroke="#ababab" stroke-width="1.3" fill="none"/>
<path d="M259.4,384.9H261M259.4,345.05H261M259.4,305.2H261M259.4,265.35H261M261,384.9V386.5M295.52,384.9V386.5M330.05,384.9V386.5M364.57,384.9V386.5M399.1,384.9V386.5" stroke="#ababab" stroke-width="1.3" fill="none"/>
<text x="258.4" y="388.64" font-size="10.7" text-anchor="end" fill="#000" stroke="#000" stroke-width="0.22" >0</text>
<text x="258.4" y="348.79" font-size="10.7" text-anchor="end" fill="#000" stroke="#000" stroke-width="0.22" >50</text>
<text x="258.4" y="308.94" font-size="10.7" text-anchor="end" fill="#000" stroke="#000" stroke-width="0.22" >100</text>
<text x="258.4" y="269.09" font-size="10.7" text-anchor="end" fill="#000" stroke="#000" stroke-width="0.22" >150</text>
<text x="261" y="397.7" font-size="10.7" text-anchor="middle" fill="#000" stroke="#000" stroke-width="0.22" >0</text>
<text x="295.52" y="397.7" font-size="10.7" text-anchor="middle" fill="#000" stroke="#000" stroke-width="0.22" >50</text>
<text x="330.05" y="397.7" font-size="10.7" text-anchor="middle" fill="#000" stroke="#000" stroke-width="0.22" >100</text>
<text x="364.57" y="397.7" font-size="10.7" text-anchor="middle" fill="#000" stroke="#000" stroke-width="0.22" >150</text>
<text x="399.1" y="397.7" font-size="10.7" text-anchor="middle" fill="#000" stroke="#000" stroke-width="0.22" >200</text>
<text x="330.4" y="416" font-size="14.2" text-anchor="middle" fill="#000" stroke="#000" stroke-width="0.22" >Time (minutes)</text>
<text transform="translate(235.5,322.1) rotate(-90)" font-size="14.2" text-anchor="middle" stroke="#000" stroke-width="0.22">OCR (pmoles/min)</text>
<path d="M261.79,306.79V316.36M260.19,306.79H263.39M260.19,316.36H263.39M266.28,309.19V318.75M264.68,309.19H267.88M264.68,318.75H267.88M270.77,309.98V319.55M269.17,309.98H272.37M269.17,319.55H272.37M275.26,328.39V337.96M273.66,328.39H276.86M273.66,337.96H276.86M279.75,330.94V340.51M278.15,330.94H281.35M278.15,340.51H281.35M284.24,331.74V341.3M282.64,331.74H285.84M282.64,341.3H285.84M288.72,331.82V341.38M287.12,331.82H290.32M287.12,341.38H290.32M293.21,331.9V341.46M291.61,331.9H294.81M291.61,341.46H294.81M297.7,331.98V341.54M296.1,331.98H299.3M296.1,341.54H299.3M302.19,332.06V341.62M300.59,332.06H303.79M300.59,341.62H303.79M306.68,332.14V341.7M305.08,332.14H308.28M305.08,341.7H308.28M311.16,332.22V341.78M309.56,332.22H312.76M309.56,341.78H312.76M315.65,332.3V341.86M314.05,332.3H317.25M314.05,341.86H317.25M320.14,332.38V341.94M318.54,332.38H321.74M318.54,341.94H321.74M324.63,332.46V342.02M323.03,332.46H326.23M323.03,342.02H326.23M329.12,332.54V342.1M327.52,332.54H330.72M327.52,342.1H330.72M333.61,332.62V342.18M332.01,332.62H335.21M332.01,342.18H335.21M338.09,333.44V343M336.49,333.44H339.69M336.49,343H339.69M342.58,334.26V343.83M340.98,334.26H344.18M340.98,343.83H344.18M347.07,335.09V344.65M345.47,335.09H348.67M345.47,344.65H348.67M351.56,335.8V345.37M349.96,335.8H353.16M349.96,345.37H353.16M356.05,336.52V346.09M354.45,336.52H357.65M354.45,346.09H357.65M360.54,337.24V346.8M358.94,337.24H362.14M358.94,346.8H362.14M365.02,342.02V344.41M363.42,342.02H366.62M363.42,344.41H366.62M369.51,342.28V344.67M367.91,342.28H371.11M367.91,344.67H371.11M374,342.55V344.94M372.4,342.55H375.6M372.4,344.94H375.6M378.49,342.81V345.2M376.89,342.81H380.09M376.89,345.2H380.09M382.98,343.07V345.46M381.38,343.07H384.58M381.38,345.46H384.58M387.47,343.33V345.72M385.87,343.33H389.07M385.87,345.72H389.07M391.95,343.59V345.98M390.35,343.59H393.55M390.35,345.98H393.55M396.44,343.85V346.25M394.84,343.85H398.04M394.84,346.25H398.04" stroke="#3a3a3a" stroke-width="0.5" fill="none"/>
<path d="M261.79,311.58L266.28,313.97L270.77,314.76L275.26,333.17L279.75,335.73L284.24,336.52L288.72,336.6L293.21,336.68L297.7,336.76L302.19,336.84L306.68,336.92L311.16,337L315.65,337.08L320.14,337.16L324.63,337.24L329.12,337.32L333.61,337.4L338.09,338.22L342.58,339.05L347.07,339.87L351.56,340.59L356.05,341.3L360.54,342.02L365.02,343.22L369.51,343.48L374,343.74L378.49,344L382.98,344.26L387.47,344.53L391.95,344.79L396.44,345.05" stroke="#333" stroke-width="0.5" fill="none"/>
<circle cx="261.79" cy="311.58" r="1.9" fill="#ffffff" stroke="#2a2a2a" stroke-width="0.6"/><circle cx="266.28" cy="313.97" r="1.9" fill="#ffffff" stroke="#2a2a2a" stroke-width="0.6"/><circle cx="270.77" cy="314.76" r="1.9" fill="#ffffff" stroke="#2a2a2a" stroke-width="0.6"/><circle cx="275.26" cy="333.17" r="1.9" fill="#ffffff" stroke="#2a2a2a" stroke-width="0.6"/><circle cx="279.75" cy="335.73" r="1.9" fill="#ffffff" stroke="#2a2a2a" stroke-width="0.6"/><circle cx="284.24" cy="336.52" r="1.9" fill="#ffffff" stroke="#2a2a2a" stroke-width="0.6"/><circle cx="288.72" cy="336.6" r="1.9" fill="#ffffff" stroke="#2a2a2a" stroke-width="0.6"/><circle cx="293.21" cy="336.68" r="1.9" fill="#ffffff" stroke="#2a2a2a" stroke-width="0.6"/><circle cx="297.7" cy="336.76" r="1.9" fill="#ffffff" stroke="#2a2a2a" stroke-width="0.6"/><circle cx="302.19" cy="336.84" r="1.9" fill="#ffffff" stroke="#2a2a2a" stroke-width="0.6"/><circle cx="306.68" cy="336.92" r="1.9" fill="#ffffff" stroke="#2a2a2a" stroke-width="0.6"/><circle cx="311.16" cy="337" r="1.9" fill="#ffffff" stroke="#2a2a2a" stroke-width="0.6"/><circle cx="315.65" cy="337.08" r="1.9" fill="#ffffff" stroke="#2a2a2a" stroke-width="0.6"/><circle cx="320.14" cy="337.16" r="1.9" fill="#ffffff" stroke="#2a2a2a" stroke-width="0.6"/><circle cx="324.63" cy="337.24" r="1.9" fill="#ffffff" stroke="#2a2a2a" stroke-width="0.6"/><circle cx="329.12" cy="337.32" r="1.9" fill="#ffffff" stroke="#2a2a2a" stroke-width="0.6"/><circle cx="333.61" cy="337.4" r="1.9" fill="#ffffff" stroke="#2a2a2a" stroke-width="0.6"/><circle cx="338.09" cy="338.22" r="1.9" fill="#ffffff" stroke="#2a2a2a" stroke-width="0.6"/><circle cx="342.58" cy="339.05" r="1.9" fill="#ffffff" stroke="#2a2a2a" stroke-width="0.6"/><circle cx="347.07" cy="339.87" r="1.9" fill="#ffffff" stroke="#2a2a2a" stroke-width="0.6"/><circle cx="351.56" cy="340.59" r="1.9" fill="#ffffff" stroke="#2a2a2a" stroke-width="0.6"/><circle cx="356.05" cy="341.3" r="1.9" fill="#ffffff" stroke="#2a2a2a" stroke-width="0.6"/><circle cx="360.54" cy="342.02" r="1.9" fill="#ffffff" stroke="#2a2a2a" stroke-width="0.6"/><circle cx="365.02" cy="343.22" r="1.9" fill="#ffffff" stroke="#2a2a2a" stroke-width="0.6"/><circle cx="369.51" cy="343.48" r="1.9" fill="#ffffff" stroke="#2a2a2a" stroke-width="0.6"/><circle cx="374" cy="343.74" r="1.9" fill="#ffffff" stroke="#2a2a2a" stroke-width="0.6"/><circle cx="378.49" cy="344" r="1.9" fill="#ffffff" stroke="#2a2a2a" stroke-width="0.6"/><circle cx="382.98" cy="344.26" r="1.9" fill="#ffffff" stroke="#2a2a2a" stroke-width="0.6"/><circle cx="387.47" cy="344.53" r="1.9" fill="#ffffff" stroke="#2a2a2a" stroke-width="0.6"/><circle cx="391.95" cy="344.79" r="1.9" fill="#ffffff" stroke="#2a2a2a" stroke-width="0.6"/><circle cx="396.44" cy="345.05" r="1.9" fill="#ffffff" stroke="#2a2a2a" stroke-width="0.6"/>
<path d="M261.79,305.2V319.55M260.19,305.2H263.39M260.19,319.55H263.39M266.28,307.59V321.94M264.68,307.59H267.88M264.68,321.94H267.88M270.77,308.39V322.73M269.17,308.39H272.37M269.17,322.73H272.37M275.26,326.8V341.14M273.66,326.8H276.86M273.66,341.14H276.86M279.75,329.35V343.7M278.15,329.35H281.35M278.15,343.7H281.35M284.24,330.15V344.49M282.64,330.15H285.84M282.64,344.49H285.84M288.72,330.23V344.57M287.12,330.23H290.32M287.12,344.57H290.32M293.21,330.31V344.65M291.61,330.31H294.81M291.61,344.65H294.81M297.7,330.39V344.73M296.1,330.39H299.3M296.1,344.73H299.3M302.19,330.46V344.81M300.59,330.46H303.79M300.59,344.81H303.79M306.68,330.54V344.89M305.08,330.54H308.28M305.08,344.89H308.28M311.16,330.62V344.97M309.56,330.62H312.76M309.56,344.97H312.76M315.65,330.7V345.05M314.05,330.7H317.25M314.05,345.05H317.25M320.14,330.78V345.13M318.54,330.78H321.74M318.54,345.13H321.74M324.63,330.86V345.21M323.03,330.86H326.23M323.03,345.21H326.23M329.12,330.94V345.29M327.52,330.94H330.72M327.52,345.29H330.72M333.61,331.02V345.37M332.01,331.02H335.21M332.01,345.37H335.21M338.09,331.85V346.19M336.49,331.85H339.69M336.49,346.19H339.69M342.58,332.67V347.02M340.98,332.67H344.18M340.98,347.02H344.18M347.07,333.49V347.84M345.47,333.49H348.67M345.47,347.84H348.67M351.56,334.21V348.56M349.96,334.21H353.16M349.96,348.56H353.16M356.05,334.93V349.27M354.45,334.93H357.65M354.45,349.27H357.65M360.54,335.65V349.99M358.94,335.65H362.14M358.94,349.99H362.14M365.02,321.86V337.8M363.42,321.86H366.62M363.42,337.8H366.62M369.51,317.63V333.57M367.91,317.63H371.11M367.91,333.57H371.11M374,317.23V333.17M372.4,317.23H375.6M372.4,333.17H375.6M378.49,318.19V334.13M376.89,318.19H380.09M376.89,334.13H380.09M382.98,319.15V335.09M381.38,319.15H384.58M381.38,335.09H384.58M387.47,319.94V335.88M385.87,319.94H389.07M385.87,335.88H389.07M391.95,321.06V337M390.35,321.06H393.55M390.35,337H393.55M396.44,321.86V337.8M394.84,321.86H398.04M394.84,337.8H398.04" stroke="#3a3a3a" stroke-width="0.5" fill="none"/>
<path d="M261.79,312.37L266.28,314.76L270.77,315.56L275.26,333.97L279.75,336.52L284.24,337.32L288.72,337.4L293.21,337.48L297.7,337.56L302.19,337.64L306.68,337.72L311.16,337.8L315.65,337.88L320.14,337.96L324.63,338.04L329.12,338.12L333.61,338.2L338.09,339.02L342.58,339.84L347.07,340.67L351.56,341.38L356.05,342.1L360.54,342.82L365.02,329.83L369.51,325.6L374,325.2L378.49,326.16L382.98,327.12L387.47,327.91L391.95,329.03L396.44,329.83" stroke="#333" stroke-width="0.5" fill="none"/>
<circle cx="261.79" cy="312.37" r="1.9" fill="#b8b8b8" stroke="#2a2a2a" stroke-width="0.6"/><circle cx="266.28" cy="314.76" r="1.9" fill="#b8b8b8" stroke="#2a2a2a" stroke-width="0.6"/><circle cx="270.77" cy="315.56" r="1.9" fill="#b8b8b8" stroke="#2a2a2a" stroke-width="0.6"/><circle cx="275.26" cy="333.97" r="1.9" fill="#b8b8b8" stroke="#2a2a2a" stroke-width="0.6"/><circle cx="279.75" cy="336.52" r="1.9" fill="#b8b8b8" stroke="#2a2a2a" stroke-width="0.6"/><circle cx="284.24" cy="337.32" r="1.9" fill="#b8b8b8" stroke="#2a2a2a" stroke-width="0.6"/><circle cx="288.72" cy="337.4" r="1.9" fill="#b8b8b8" stroke="#2a2a2a" stroke-width="0.6"/><circle cx="293.21" cy="337.48" r="1.9" fill="#b8b8b8" stroke="#2a2a2a" stroke-width="0.6"/><circle cx="297.7" cy="337.56" r="1.9" fill="#b8b8b8" stroke="#2a2a2a" stroke-width="0.6"/><circle cx="302.19" cy="337.64" r="1.9" fill="#b8b8b8" stroke="#2a2a2a" stroke-width="0.6"/><circle cx="306.68" cy="337.72" r="1.9" fill="#b8b8b8" stroke="#2a2a2a" stroke-width="0.6"/><circle cx="311.16" cy="337.8" r="1.9" fill="#b8b8b8" stroke="#2a2a2a" stroke-width="0.6"/><circle cx="315.65" cy="337.88" r="1.9" fill="#b8b8b8" stroke="#2a2a2a" stroke-width="0.6"/><circle cx="320.14" cy="337.96" r="1.9" fill="#b8b8b8" stroke="#2a2a2a" stroke-width="0.6"/><circle cx="324.63" cy="338.04" r="1.9" fill="#b8b8b8" stroke="#2a2a2a" stroke-width="0.6"/><circle cx="329.12" cy="338.12" r="1.9" fill="#b8b8b8" stroke="#2a2a2a" stroke-width="0.6"/><circle cx="333.61" cy="338.2" r="1.9" fill="#b8b8b8" stroke="#2a2a2a" stroke-width="0.6"/><circle cx="338.09" cy="339.02" r="1.9" fill="#b8b8b8" stroke="#2a2a2a" stroke-width="0.6"/><circle cx="342.58" cy="339.84" r="1.9" fill="#b8b8b8" stroke="#2a2a2a" stroke-width="0.6"/><circle cx="347.07" cy="340.67" r="1.9" fill="#b8b8b8" stroke="#2a2a2a" stroke-width="0.6"/><circle cx="351.56" cy="341.38" r="1.9" fill="#b8b8b8" stroke="#2a2a2a" stroke-width="0.6"/><circle cx="356.05" cy="342.1" r="1.9" fill="#b8b8b8" stroke="#2a2a2a" stroke-width="0.6"/><circle cx="360.54" cy="342.82" r="1.9" fill="#b8b8b8" stroke="#2a2a2a" stroke-width="0.6"/><circle cx="365.02" cy="329.83" r="1.9" fill="#b8b8b8" stroke="#2a2a2a" stroke-width="0.6"/><circle cx="369.51" cy="325.6" r="1.9" fill="#b8b8b8" stroke="#2a2a2a" stroke-width="0.6"/><circle cx="374" cy="325.2" r="1.9" fill="#b8b8b8" stroke="#2a2a2a" stroke-width="0.6"/><circle cx="378.49" cy="326.16" r="1.9" fill="#b8b8b8" stroke="#2a2a2a" stroke-width="0.6"/><circle cx="382.98" cy="327.12" r="1.9" fill="#b8b8b8" stroke="#2a2a2a" stroke-width="0.6"/><circle cx="387.47" cy="327.91" r="1.9" fill="#b8b8b8" stroke="#2a2a2a" stroke-width="0.6"/><circle cx="391.95" cy="329.03" r="1.9" fill="#b8b8b8" stroke="#2a2a2a" stroke-width="0.6"/><circle cx="396.44" cy="329.83" r="1.9" fill="#b8b8b8" stroke="#2a2a2a" stroke-width="0.6"/>
<path d="M261.79,307.19V324.73M260.19,307.19H263.39M260.19,324.73H263.39M266.28,309.5V327.04M264.68,309.5H267.88M264.68,327.04H267.88M270.77,309.98V327.52M269.17,309.98H272.37M269.17,327.52H272.37M275.26,313.57V331.1M273.66,313.57H276.86M273.66,331.1H276.86M279.75,313.17V330.7M278.15,313.17H281.35M278.15,330.7H281.35M284.24,313.07V330.6M282.64,313.07H285.84M282.64,330.6H285.84M288.72,312.97V330.5M287.12,312.97H290.32M287.12,330.5H290.32M293.21,312.87V330.41M291.61,312.87H294.81M291.61,330.41H294.81M297.7,312.77V330.31M296.1,312.77H299.3M296.1,330.31H299.3M302.19,312.57V330.11M300.59,312.57H303.79M300.59,330.11H303.79M306.68,312.37V329.91M305.08,312.37H308.28M305.08,329.91H308.28M311.16,311.58V329.11M309.56,311.58H312.76M309.56,329.11H312.76M315.65,310.38V327.91M314.05,310.38H317.25M314.05,327.91H317.25M320.14,308.79V326.32M318.54,308.79H321.74M318.54,326.32H321.74M324.63,307.19V324.73M323.03,307.19H326.23M323.03,324.73H326.23M329.12,305.6V323.13M327.52,305.6H330.72M327.52,323.13H330.72M333.61,304.4V321.94M332.01,304.4H335.21M332.01,321.94H335.21M338.09,303.21V320.74M336.49,303.21H339.69M336.49,320.74H339.69M342.58,303.21V320.74M340.98,303.21H344.18M340.98,320.74H344.18M347.07,303.21V320.74M345.47,303.21H348.67M345.47,320.74H348.67M351.56,303.21V320.74M349.96,303.21H353.16M349.96,320.74H353.16M356.05,303.21V320.74M354.45,303.21H357.65M354.45,320.74H357.65M360.54,303.21V320.74M358.94,303.21H362.14M358.94,320.74H362.14M365.02,303.61V321.14M363.42,303.61H366.62M363.42,321.14H366.62M369.51,303.74V321.28M367.91,303.74H371.11M367.91,321.28H371.11M374,303.88V321.41M372.4,303.88H375.6M372.4,321.41H375.6M378.49,304.02V321.55M376.89,304.02H380.09M376.89,321.55H380.09M382.98,304.15V321.69M381.38,304.15H384.58M381.38,321.69H384.58M387.47,304.29V321.82M385.87,304.29H389.07M385.87,321.82H389.07M391.95,304.43V321.96M390.35,304.43H393.55M390.35,321.96H393.55M396.44,304.56V322.1M394.84,304.56H398.04M394.84,322.1H398.04" stroke="#3a3a3a" stroke-width="0.5" fill="none"/>
<path d="M261.79,315.96L266.28,318.27L270.77,318.75L275.26,322.34L279.75,321.94L284.24,321.84L288.72,321.74L293.21,321.64L297.7,321.54L302.19,321.34L306.68,321.14L311.16,320.34L315.65,319.15L320.14,317.55L324.63,315.96L329.12,314.37L333.61,313.17L338.09,311.97L342.58,311.97L347.07,311.97L351.56,311.97L356.05,311.97L360.54,311.97L365.02,312.37L369.51,312.51L374,312.65L378.49,312.78L382.98,312.92L387.47,313.06L391.95,313.19L396.44,313.33" stroke="#333" stroke-width="0.5" fill="none"/>
<rect x="260.04" y="314.21" width="3.5" height="3.5" fill="#cfe7fb" stroke="#4a4a4a" stroke-width="0.6"/><rect x="264.53" y="316.52" width="3.5" height="3.5" fill="#cfe7fb" stroke="#4a4a4a" stroke-width="0.6"/><rect x="269.02" y="317" width="3.5" height="3.5" fill="#cfe7fb" stroke="#4a4a4a" stroke-width="0.6"/><rect x="273.51" y="320.59" width="3.5" height="3.5" fill="#cfe7fb" stroke="#4a4a4a" stroke-width="0.6"/><rect x="278" y="320.19" width="3.5" height="3.5" fill="#cfe7fb" stroke="#4a4a4a" stroke-width="0.6"/><rect x="282.49" y="320.09" width="3.5" height="3.5" fill="#cfe7fb" stroke="#4a4a4a" stroke-width="0.6"/><rect x="286.97" y="319.99" width="3.5" height="3.5" fill="#cfe7fb" stroke="#4a4a4a" stroke-width="0.6"/><rect x="291.46" y="319.89" width="3.5" height="3.5" fill="#cfe7fb" stroke="#4a4a4a" stroke-width="0.6"/><rect x="295.95" y="319.79" width="3.5" height="3.5" fill="#cfe7fb" stroke="#4a4a4a" stroke-width="0.6"/><rect x="300.44" y="319.59" width="3.5" height="3.5" fill="#cfe7fb" stroke="#4a4a4a" stroke-width="0.6"/><rect x="304.93" y="319.39" width="3.5" height="3.5" fill="#cfe7fb" stroke="#4a4a4a" stroke-width="0.6"/><rect x="309.41" y="318.59" width="3.5" height="3.5" fill="#cfe7fb" stroke="#4a4a4a" stroke-width="0.6"/><rect x="313.9" y="317.4" width="3.5" height="3.5" fill="#cfe7fb" stroke="#4a4a4a" stroke-width="0.6"/><rect x="318.39" y="315.8" width="3.5" height="3.5" fill="#cfe7fb" stroke="#4a4a4a" stroke-width="0.6"/><rect x="322.88" y="314.21" width="3.5" height="3.5" fill="#cfe7fb" stroke="#4a4a4a" stroke-width="0.6"/><rect x="327.37" y="312.62" width="3.5" height="3.5" fill="#cfe7fb" stroke="#4a4a4a" stroke-width="0.6"/><rect x="331.86" y="311.42" width="3.5" height="3.5" fill="#cfe7fb" stroke="#4a4a4a" stroke-width="0.6"/><rect x="336.34" y="310.22" width="3.5" height="3.5" fill="#cfe7fb" stroke="#4a4a4a" stroke-width="0.6"/><rect x="340.83" y="310.22" width="3.5" height="3.5" fill="#cfe7fb" stroke="#4a4a4a" stroke-width="0.6"/><rect x="345.32" y="310.22" width="3.5" height="3.5" fill="#cfe7fb" stroke="#4a4a4a" stroke-width="0.6"/><rect x="349.81" y="310.22" width="3.5" height="3.5" fill="#cfe7fb" stroke="#4a4a4a" stroke-width="0.6"/><rect x="354.3" y="310.22" width="3.5" height="3.5" fill="#cfe7fb" stroke="#4a4a4a" stroke-width="0.6"/><rect x="358.79" y="310.22" width="3.5" height="3.5" fill="#cfe7fb" stroke="#4a4a4a" stroke-width="0.6"/><rect x="363.27" y="310.62" width="3.5" height="3.5" fill="#cfe7fb" stroke="#4a4a4a" stroke-width="0.6"/><rect x="367.76" y="310.76" width="3.5" height="3.5" fill="#cfe7fb" stroke="#4a4a4a" stroke-width="0.6"/><rect x="372.25" y="310.9" width="3.5" height="3.5" fill="#cfe7fb" stroke="#4a4a4a" stroke-width="0.6"/><rect x="376.74" y="311.03" width="3.5" height="3.5" fill="#cfe7fb" stroke="#4a4a4a" stroke-width="0.6"/><rect x="381.23" y="311.17" width="3.5" height="3.5" fill="#cfe7fb" stroke="#4a4a4a" stroke-width="0.6"/><rect x="385.72" y="311.31" width="3.5" height="3.5" fill="#cfe7fb" stroke="#4a4a4a" stroke-width="0.6"/><rect x="390.2" y="311.44" width="3.5" height="3.5" fill="#cfe7fb" stroke="#4a4a4a" stroke-width="0.6"/><rect x="394.69" y="311.58" width="3.5" height="3.5" fill="#cfe7fb" stroke="#4a4a4a" stroke-width="0.6"/>
<path d="M261.79,306.4V323.93M260.19,306.4H263.39M260.19,323.93H263.39M266.28,308.71V326.24M264.68,308.71H267.88M264.68,326.24H267.88M270.77,309.19V326.72M269.17,309.19H272.37M269.17,326.72H272.37M275.26,312.77V330.31M273.66,312.77H276.86M273.66,330.31H276.86M279.75,312.37V329.91M278.15,312.37H281.35M278.15,329.91H281.35M284.24,312.27V329.81M282.64,312.27H285.84M282.64,329.81H285.84M288.72,312.17V329.71M287.12,312.17H290.32M287.12,329.71H290.32M293.21,312.07V329.61M291.61,312.07H294.81M291.61,329.61H294.81M297.7,311.97V329.51M296.1,311.97H299.3M296.1,329.51H299.3M302.19,311.78V329.31M300.59,311.78H303.79M300.59,329.31H303.79M306.68,311.58V329.11M305.08,311.58H308.28M305.08,329.11H308.28M311.16,310.78V328.31M309.56,310.78H312.76M309.56,328.31H312.76M315.65,309.58V327.12M314.05,309.58H317.25M314.05,327.12H317.25M320.14,307.99V325.52M318.54,307.99H321.74M318.54,325.52H321.74M324.63,306.4V323.93M323.03,306.4H326.23M323.03,323.93H326.23M329.12,304.8V322.34M327.52,304.8H330.72M327.52,322.34H330.72M333.61,303.61V321.14M332.01,303.61H335.21M332.01,321.14H335.21M338.09,302.41V319.94M336.49,302.41H339.69M336.49,319.94H339.69M342.58,302.41V319.94M340.98,302.41H344.18M340.98,319.94H344.18M347.07,302.41V319.94M345.47,302.41H348.67M345.47,319.94H348.67M351.56,302.41V319.94M349.96,302.41H353.16M349.96,319.94H353.16M356.05,302.41V319.94M354.45,302.41H357.65M354.45,319.94H357.65M360.54,302.41V319.94M358.94,302.41H362.14M358.94,319.94H362.14M365.02,303.61V321.14M363.42,303.61H366.62M363.42,321.14H366.62M369.51,303.74V321.28M367.91,303.74H371.11M367.91,321.28H371.11M374,303.88V321.41M372.4,303.88H375.6M372.4,321.41H375.6M378.49,304.02V321.55M376.89,304.02H380.09M376.89,321.55H380.09M382.98,304.15V321.69M381.38,304.15H384.58M381.38,321.69H384.58M387.47,304.29V321.82M385.87,304.29H389.07M385.87,321.82H389.07M391.95,304.43V321.96M390.35,304.43H393.55M390.35,321.96H393.55M396.44,304.56V322.1M394.84,304.56H398.04M394.84,322.1H398.04" stroke="#3a3a3a" stroke-width="0.5" fill="none"/>
<path d="M261.79,315.16L266.28,317.47L270.77,317.95L275.26,321.54L279.75,321.14L284.24,321.04L288.72,320.94L293.21,320.84L297.7,320.74L302.19,320.54L306.68,320.34L311.16,319.55L315.65,318.35L320.14,316.76L324.63,315.16L329.12,313.57L333.61,312.37L338.09,311.18L342.58,311.18L347.07,311.18L351.56,311.18L356.05,311.18L360.54,311.18L365.02,312.37L369.51,312.51L374,312.65L378.49,312.78L382.98,312.92L387.47,313.06L391.95,313.19L396.44,313.33" stroke="#333" stroke-width="0.5" fill="none"/>
<rect x="260.04" y="313.41" width="3.5" height="3.5" fill="#4a80e0" stroke="#1c2230" stroke-width="0.6"/><rect x="264.53" y="315.72" width="3.5" height="3.5" fill="#4a80e0" stroke="#1c2230" stroke-width="0.6"/><rect x="269.02" y="316.2" width="3.5" height="3.5" fill="#4a80e0" stroke="#1c2230" stroke-width="0.6"/><rect x="273.51" y="319.79" width="3.5" height="3.5" fill="#4a80e0" stroke="#1c2230" stroke-width="0.6"/><rect x="278" y="319.39" width="3.5" height="3.5" fill="#4a80e0" stroke="#1c2230" stroke-width="0.6"/><rect x="282.49" y="319.29" width="3.5" height="3.5" fill="#4a80e0" stroke="#1c2230" stroke-width="0.6"/><rect x="286.97" y="319.19" width="3.5" height="3.5" fill="#4a80e0" stroke="#1c2230" stroke-width="0.6"/><rect x="291.46" y="319.09" width="3.5" height="3.5" fill="#4a80e0" stroke="#1c2230" stroke-width="0.6"/><rect x="295.95" y="318.99" width="3.5" height="3.5" fill="#4a80e0" stroke="#1c2230" stroke-width="0.6"/><rect x="300.44" y="318.79" width="3.5" height="3.5" fill="#4a80e0" stroke="#1c2230" stroke-width="0.6"/><rect x="304.93" y="318.59" width="3.5" height="3.5" fill="#4a80e0" stroke="#1c2230" stroke-width="0.6"/><rect x="309.41" y="317.8" width="3.5" height="3.5" fill="#4a80e0" stroke="#1c2230" stroke-width="0.6"/><rect x="313.9" y="316.6" width="3.5" height="3.5" fill="#4a80e0" stroke="#1c2230" stroke-width="0.6"/><rect x="318.39" y="315.01" width="3.5" height="3.5" fill="#4a80e0" stroke="#1c2230" stroke-width="0.6"/><rect x="322.88" y="313.41" width="3.5" height="3.5" fill="#4a80e0" stroke="#1c2230" stroke-width="0.6"/><rect x="327.37" y="311.82" width="3.5" height="3.5" fill="#4a80e0" stroke="#1c2230" stroke-width="0.6"/><rect x="331.86" y="310.62" width="3.5" height="3.5" fill="#4a80e0" stroke="#1c2230" stroke-width="0.6"/><rect x="336.34" y="309.43" width="3.5" height="3.5" fill="#4a80e0" stroke="#1c2230" stroke-width="0.6"/><rect x="340.83" y="309.43" width="3.5" height="3.5" fill="#4a80e0" stroke="#1c2230" stroke-width="0.6"/><rect x="345.32" y="309.43" width="3.5" height="3.5" fill="#4a80e0" stroke="#1c2230" stroke-width="0.6"/><rect x="349.81" y="309.43" width="3.5" height="3.5" fill="#4a80e0" stroke="#1c2230" stroke-width="0.6"/><rect x="354.3" y="309.43" width="3.5" height="3.5" fill="#4a80e0" stroke="#1c2230" stroke-width="0.6"/><rect x="358.79" y="309.43" width="3.5" height="3.5" fill="#4a80e0" stroke="#1c2230" stroke-width="0.6"/><rect x="363.27" y="310.62" width="3.5" height="3.5" fill="#4a80e0" stroke="#1c2230" stroke-width="0.6"/><rect x="367.76" y="310.76" width="3.5" height="3.5" fill="#4a80e0" stroke="#1c2230" stroke-width="0.6"/><rect x="372.25" y="310.9" width="3.5" height="3.5" fill="#4a80e0" stroke="#1c2230" stroke-width="0.6"/><rect x="376.74" y="311.03" width="3.5" height="3.5" fill="#4a80e0" stroke="#1c2230" stroke-width="0.6"/><rect x="381.23" y="311.17" width="3.5" height="3.5" fill="#4a80e0" stroke="#1c2230" stroke-width="0.6"/><rect x="385.72" y="311.31" width="3.5" height="3.5" fill="#4a80e0" stroke="#1c2230" stroke-width="0.6"/><rect x="390.2" y="311.44" width="3.5" height="3.5" fill="#4a80e0" stroke="#1c2230" stroke-width="0.6"/><rect x="394.69" y="311.58" width="3.5" height="3.5" fill="#4a80e0" stroke="#1c2230" stroke-width="0.6"/>
<path d="M483.9,68.55V166.5H606.7" stroke="#ababab" stroke-width="1.3" fill="none"/>
<path d="M482.3,166.5H483.9M482.3,133.85H483.9M482.3,101.2H483.9M482.3,68.55H483.9M483.9,166.5V168.1M524.84,166.5V168.1M565.77,166.5V168.1M606.7,166.5V168.1" stroke="#ababab" stroke-width="1.3" fill="none"/>
<text x="480.9" y="170.63" font-size="11.8" text-anchor="end" fill="#000" stroke="#000" stroke-width="0.22" >0</text>
<text x="480.9" y="137.98" font-size="11.8" text-anchor="end" fill="#000" stroke="#000" stroke-width="0.22" >50</text>
<text x="480.9" y="105.33" font-size="11.8" text-anchor="end" fill="#000" stroke="#000" stroke-width="0.22" >100</text>
<text x="480.9" y="72.68" font-size="11.8" text-anchor="end" fill="#000" stroke="#000" stroke-width="0.22" >150</text>
<text x="483.9" y="180.1" font-size="11.8" text-anchor="middle" fill="#000" stroke="#000" stroke-width="0.22" >0</text>
<text x="524.84" y="180.1" font-size="11.8" text-anchor="middle" fill="#000" stroke="#000" stroke-width="0.22" >50</text>
<text x="565.77" y="180.1" font-size="11.8" text-anchor="middle" fill="#000" stroke="#000" stroke-width="0.22" >100</text>
<text x="606.7" y="180.1" font-size="11.8" text-anchor="middle" fill="#000" stroke="#000" stroke-width="0.22" >150</text>
<text x="545" y="199.4" font-size="14.6" text-anchor="middle" fill="#000" stroke="#000" stroke-width="0.22" >ECAR (mpH/min)</text>
<text transform="translate(458.3,115.2) rotate(-90)" font-size="14.5" text-anchor="middle" stroke="#000" stroke-width="0.22">OCR (pmoles/min)</text>
<text x="491.3" y="77.7" font-size="6.45" text-anchor="start" fill="#000" stroke="#000" stroke-width="0.22" font-style="italic" stroke-opacity="0.35">Oxidative</text>
<text x="575.7" y="152.3" font-size="6.45" text-anchor="start" fill="#000" stroke="#000" stroke-width="0.22" font-style="italic" stroke-opacity="0.35">Glycolytic</text>
<path d="M502.1,108V135" stroke="#444" stroke-width="0.85"/>
<path d="M499,133.6L505.2,133.6L502.1,140.4Z" fill="#000"/>
<path d="M552.9,134.1L553.3,138.5" stroke="#444" stroke-width="0.85"/>
<path d="M550.7,137.6L556.5,137.2L553.9,144.6Z" fill="#000"/>
<path d="M547.4,124.7V135.3M545.6,124.7H549.2M545.6,135.3H549.2M541.2,130H553.6M541.2,128.2V131.8M553.6,128.2V131.8" stroke="#333" stroke-width="0.8" fill="none"/>
<circle cx="547.4" cy="130" r="2.1" fill="#ffffff" stroke="#2a2a2a" stroke-width="0.6"/>
<path d="M549.9,145.7V154.1M548.1,145.7H551.7M548.1,154.1H551.7M543.3,149.9H556.5M543.3,148.1V151.7M556.5,148.1V151.7" stroke="#333" stroke-width="0.8" fill="none"/>
<circle cx="549.9" cy="149.9" r="2.1" fill="#b8b8b8" stroke="#2a2a2a" stroke-width="0.6"/>
<rect x="499.6" y="100.5" width="4.0" height="4.0" fill="#cfe7fb" stroke="#4a4a4a" stroke-width="0.6"/>
<rect x="500" y="145.1" width="4.0" height="4.0" fill="#4a80e0" stroke="#1c2230" stroke-width="0.6"/>
<circle cx="625.4" cy="75.6" r="2.1" fill="#ffffff" stroke="#2a2a2a" stroke-width="0.8"/>
<text x="636.55" y="79.8" font-size="11.8" text-anchor="start" fill="#000" stroke="#000" stroke-width="0.22" >Glc</text>
<circle cx="625.4" cy="93.4" r="2.1" fill="#b8b8b8" stroke="#2a2a2a" stroke-width="0.8"/>
<text x="636.55" y="97.2" font-size="11.8" text-anchor="start" fill="#000" stroke="#000" stroke-width="0.22" >Glc Oligo</text>
<rect x="623.3" y="107.3" width="4.2" height="4.2" fill="#cfe7fb" stroke="#4a4a4a" stroke-width="0.8"/>
<text x="636.55" y="113" font-size="11.8" text-anchor="start" fill="#000" stroke="#000" stroke-width="0.22" >Frc</text>
<rect x="623.3" y="124.9" width="4.2" height="4.2" fill="#4a80e0" stroke="#1c2230" stroke-width="0.8"/>
<text x="636.55" y="130.6" font-size="11.8" text-anchor="start" fill="#000" stroke="#000" stroke-width="0.22" >Frc Oligo</text>
<path d="M484,287.3V383.3H605.5" stroke="#a4a4a4" stroke-width="1.3" fill="none"/>
<path d="M482.4,383.3H484M482.4,351.3H484M482.4,319.3H484M482.4,287.3H484M484,383.3V384.9M524.5,383.3V384.9M565,383.3V384.9M605.5,383.3V384.9" stroke="#a4a4a4" stroke-width="1.3" fill="none"/>
<text x="481" y="387.43" font-size="11.8" text-anchor="end" fill="#000" stroke="#000" stroke-width="0.22" >0</text>
<text x="481" y="355.43" font-size="11.8" text-anchor="end" fill="#000" stroke="#000" stroke-width="0.22" >50</text>
<text x="481" y="323.43" font-size="11.8" text-anchor="end" fill="#000" stroke="#000" stroke-width="0.22" >100</text>
<text x="481" y="291.43" font-size="11.8" text-anchor="end" fill="#000" stroke="#000" stroke-width="0.22" >150</text>
<text x="484" y="397" font-size="11.8" text-anchor="middle" fill="#000" stroke="#000" stroke-width="0.22" >0</text>
<text x="524.5" y="397" font-size="11.8" text-anchor="middle" fill="#000" stroke="#000" stroke-width="0.22" >50</text>
<text x="565" y="397" font-size="11.8" text-anchor="middle" fill="#000" stroke="#000" stroke-width="0.22" >100</text>
<text x="605.5" y="397" font-size="11.8" text-anchor="middle" fill="#000" stroke="#000" stroke-width="0.22" >150</text>
<text x="545" y="417.6" font-size="14.6" text-anchor="middle" fill="#000" stroke="#000" stroke-width="0.22" >ECAR (mpH/min)</text>
<text transform="translate(454.2,332.4) rotate(-90)" font-size="14.55" text-anchor="middle" stroke="#000" stroke-width="0.22">OCR (pmoles/min)</text>
<text x="488.6" y="290.8" font-size="6.5" text-anchor="start" fill="#000" stroke="#000" stroke-width="0.22" font-style="italic" stroke-opacity="0.35">Oxidative</text>
<text x="572.2" y="367.4" font-size="6.45" text-anchor="start" fill="#000" stroke="#000" stroke-width="0.22" font-style="italic" stroke-opacity="0.35">Glycolytic</text>
<path d="M545.9,344.1V355.1M544.1,344.1H547.7M544.1,355.1H547.7M538.2,349.6H553.6M538.2,347.8V351.4M553.6,347.8V351.4" stroke="#333" stroke-width="0.8" fill="none"/>
<circle cx="545.9" cy="349.6" r="2.1" fill="#ffffff" stroke="#2a2a2a" stroke-width="0.6"/>
<path d="M521.4,333.4V344.6M519.6,333.4H523.2M519.6,344.6H523.2M518.2,339H524.6M518.2,337.2V340.8M524.6,337.2V340.8" stroke="#333" stroke-width="0.8" fill="none"/>
<circle cx="521.4" cy="339" r="2.1" fill="#b8b8b8" stroke="#2a2a2a" stroke-width="0.6"/>
<path d="M541.3,345.4L532.5,342" stroke="#333" stroke-width="0.9"/>
<path d="M527.8,339.9L535.3,340.2L532.8,344.9Z" fill="#000"/>
<rect x="498.3" y="322.9" width="4.2" height="4.2" fill="#4a80e0" stroke="#1c2230" stroke-width="0.6"/>
<rect x="500" y="321.7" width="4.2" height="4.2" fill="#cfe7fb" stroke="#4a4a4a" stroke-width="0.6"/>
<circle cx="621.8" cy="285.2" r="1.9" fill="#ffffff" stroke="#2a2a2a" stroke-width="0.8"/>
<text x="633.1" y="289" font-size="11.9" text-anchor="start" fill="#000" stroke="#000" stroke-width="0.22" >Glc</text>
<circle cx="621.8" cy="303.2" r="1.9" fill="#b8b8b8" stroke="#2a2a2a" stroke-width="0.8"/>
<text x="633.1" y="306.6" font-size="11.9" text-anchor="start" fill="#000" stroke="#000" stroke-width="0.22" >Glc LDHi</text>
<rect x="620" y="317.6" width="3.6" height="3.6" fill="#cfe7fb" stroke="#4a4a4a" stroke-width="0.8"/>
<text x="633.1" y="322.6" font-size="11.9" text-anchor="start" fill="#000" stroke="#000" stroke-width="0.22" >Frc</text>
<rect x="620" y="334.7" width="3.6" height="3.6" fill="#4a80e0" stroke="#1c2230" stroke-width="0.8"/>
<text x="633.1" y="340.2" font-size="11.9" text-anchor="start" fill="#000" stroke="#000" stroke-width="0.22" >Frc LDHi</text>
</svg>
</body></html>
